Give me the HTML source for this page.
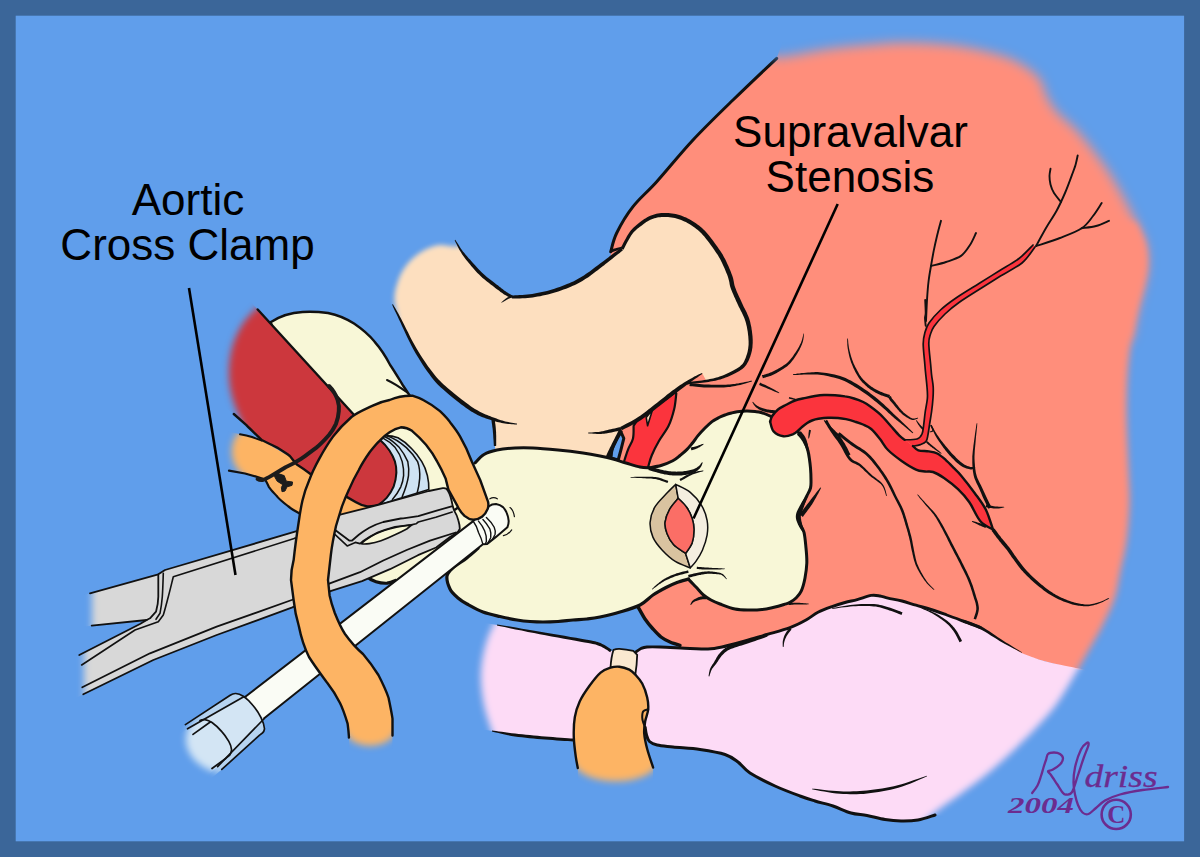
<!DOCTYPE html>
<html>
<head>
<meta charset="utf-8">
<title>Supravalvar Stenosis - Aortic Cross Clamp</title>
<style>
html,body{margin:0;padding:0;background:#3b6699;}
body{width:1200px;height:857px;overflow:hidden;font-family:"Liberation Sans",sans-serif;}
svg{display:block;position:absolute;left:0;top:0;}
.k{fill:none;stroke:#111;stroke-linecap:round;stroke-linejoin:round;}
.lbl{font-family:"Liberation Sans",sans-serif;font-size:44px;fill:#000;text-anchor:middle;}
</style>
</head>
<body>
<svg width="1200" height="857" viewBox="0 0 1200 857">
<defs>
<filter id="b7" x="-20%" y="-20%" width="140%" height="140%"><feGaussianBlur stdDeviation="6"/></filter>
<filter id="b4" x="-20%" y="-20%" width="140%" height="140%"><feGaussianBlur stdDeviation="3.5"/></filter>
<filter id="b3" x="-20%" y="-20%" width="140%" height="140%"><feGaussianBlur stdDeviation="2.4"/></filter>
<mask id="mHeart" maskUnits="userSpaceOnUse" x="0" y="0" width="1200" height="857"><path filter="url(#b7)" fill="#fff" d="M776.8,57.8 C779.8,57.3 786.1,56.5 795.0,55.0 C803.9,53.5 818.3,50.3 830.0,48.7 C841.7,47.1 853.3,46.2 865.0,45.2 C876.7,44.2 888.3,43.0 900.0,42.8 C911.7,42.6 923.3,42.9 935.0,43.8 C946.7,44.7 958.3,45.8 970.0,48.0 C981.7,50.2 995.7,53.6 1005.0,56.8 C1014.3,60.0 1020.2,63.5 1026.0,67.3 C1031.8,71.1 1036.5,74.5 1040.0,79.5 C1043.5,84.5 1044.1,91.5 1047.0,97.0 C1049.9,102.5 1052.8,107.5 1057.5,112.8 C1062.2,118.0 1069.2,122.4 1075.0,128.5 C1080.8,134.6 1086.7,141.9 1092.5,149.5 C1098.3,157.1 1104.8,165.8 1110.0,174.0 C1115.2,182.2 1119.6,190.3 1124.0,198.5 C1128.4,206.7 1132.8,215.4 1136.3,223.0 C1139.8,230.6 1143.2,237.0 1145.0,244.0 C1146.8,251.0 1147.0,258.5 1146.8,265.0 C1146.6,271.5 1145.6,275.5 1144.0,283.0 C1142.4,290.5 1139.1,300.4 1137.0,309.9 C1134.9,319.3 1132.3,334.7 1131.4,339.7 L1000,345 L600,345 L560,250 L700,20 Z"/><path filter="url(#b4)" fill="#fff" d="M1136.3,223.0 C1137.8,226.5 1143.2,237.0 1145.0,244.0 C1146.8,251.0 1147.0,258.5 1146.8,265.0 C1146.6,271.5 1145.6,275.5 1144.0,283.0 C1142.4,290.5 1139.1,300.4 1137.0,309.9 C1134.9,319.3 1133.0,329.1 1131.4,339.7 C1129.9,350.3 1128.5,361.5 1127.7,373.3 C1126.9,385.1 1126.6,398.2 1126.6,410.6 C1126.6,423.1 1127.3,437.4 1127.7,448.0 C1128.1,458.6 1128.5,464.7 1128.8,474.0 C1129.1,483.3 1130.0,492.8 1129.6,504.0 C1129.2,515.2 1128.1,530.1 1126.6,541.3 C1125.0,552.5 1122.3,561.8 1120.3,571.2 C1118.3,580.7 1117.7,589.0 1114.7,598.0 C1111.7,607.0 1107.2,615.8 1102.5,625.3 C1097.8,634.8 1091.1,646.0 1086.2,654.7 C1081.3,663.4 1077.9,669.4 1073.0,677.6 C1068.1,685.8 1062.8,695.5 1056.8,703.7 C1050.8,711.9 1044.8,718.4 1037.2,726.6 C1029.6,734.8 1019.7,744.5 1011.0,752.7 C1002.3,760.9 993.7,768.5 985.0,775.6 C976.3,782.7 967.0,789.2 958.8,795.2 C950.6,801.2 942.8,806.0 936.0,811.5 C929.2,817.0 923.2,821.6 918.0,828.0 C912.8,834.4 907.2,846.3 905.0,850.0 L600,845 L560,600 L560,240 L1000,240 L1100,215 Z"/></mask>
<mask id="mPink" maskUnits="userSpaceOnUse" x="0" y="0" width="1200" height="857"><path filter="url(#b4)" fill="#fff" d="M500.0,612.0 C497.8,616.7 490.2,630.0 487.0,640.0 C483.8,650.0 481.5,661.2 481.0,672.0 C480.5,682.8 481.8,694.0 484.0,705.0 C486.2,716.0 492.3,732.5 494.0,738.0 L640,835 L905,850 L905.0,850.0 C907.2,846.3 912.8,834.4 918.0,828.0 C923.2,821.6 929.2,817.0 936.0,811.5 C942.8,806.0 950.6,801.2 958.8,795.2 C967.0,789.2 976.3,782.7 985.0,775.6 C993.7,768.5 1002.3,760.9 1011.0,752.7 C1019.7,744.5 1029.6,734.8 1037.2,726.6 C1044.8,718.4 1050.8,711.9 1056.8,703.7 C1062.8,695.5 1068.1,685.8 1073.0,677.6 C1077.9,669.4 1081.3,663.4 1086.2,654.7 C1091.1,646.0 1097.8,634.8 1102.5,625.3 C1107.2,615.8 1112.7,602.5 1114.7,598.0 L1113,560 Z"/></mask>
<mask id="mPA" maskUnits="userSpaceOnUse" x="0" y="0" width="1200" height="857"><path filter="url(#b3)" fill="#fff" d="M480.0,241.0 C476.1,241.9 463.5,245.7 456.8,246.4 C450.1,247.1 445.1,244.5 440.0,245.0 C434.9,245.5 430.7,246.9 426.0,249.2 C421.3,251.5 416.0,255.3 412.0,259.0 C408.0,262.7 404.8,267.2 402.2,271.6 C399.6,276.0 397.9,281.4 396.6,285.6 C395.3,289.8 394.7,293.5 394.5,296.8 C394.3,300.1 394.6,301.7 395.2,305.2 C395.8,308.7 397.5,315.9 398.0,318.0 L400,520 L800,520 L800,180 L480,180 Z"/></mask>
<mask id="mRed" maskUnits="userSpaceOnUse" x="0" y="0" width="1200" height="857"><path filter="url(#b4)" fill="#fff" d="M270.0,300.0 C267.7,301.5 260.7,304.8 256.0,309.0 C251.3,313.2 246.0,318.5 242.0,325.0 C238.0,331.5 234.2,339.7 232.0,348.0 C229.8,356.3 228.8,366.3 229.0,375.0 C229.2,383.7 230.5,391.2 233.0,400.0 C235.5,408.8 242.2,423.3 244.0,428.0 L300,560 L460,560 L460,300 Z"/></mask>
<mask id="mStrip" maskUnits="userSpaceOnUse" x="0" y="0" width="1200" height="857"><path filter="url(#b4)" fill="#fff" d="M246.0,428.0 C244.3,429.3 238.3,432.7 236.0,436.0 C233.7,439.3 232.5,444.0 232.0,448.0 C231.5,452.0 232.0,456.3 233.0,460.0 C234.0,463.7 235.8,467.0 238.0,470.0 C240.2,473.0 244.7,476.7 246.0,478.0 L300,560 L460,560 L460,400 Z"/></mask>
<mask id="mClamp" maskUnits="userSpaceOnUse" x="0" y="0" width="1200" height="857"><path filter="url(#b4)" fill="#fff" d="M92,560 L92,640 L84,648 L84,720 L500,720 L500,450 L92,450 Z"/></mask>
<mask id="mConn" maskUnits="userSpaceOnUse" x="0" y="0" width="1200" height="857"><path filter="url(#b4)" fill="#fff" d="M200.0,712.0 C198.2,714.3 191.3,721.0 189.0,726.0 C186.7,731.0 185.5,736.8 186.0,742.0 C186.5,747.2 188.8,752.7 192.0,757.0 C195.2,761.3 200.0,765.2 205.0,768.0 C210.0,770.8 219.2,773.0 222.0,774.0 L300,800 L300,660 L230,660 Z"/></mask>
<mask id="mLoop" maskUnits="userSpaceOnUse" x="0" y="0" width="1200" height="857"><path filter="url(#b4)" fill="#fff" d="M250,380 L520,380 L520,700 L396,730 C392,749 352,752 346,732 L250,700 Z"/></mask>
<mask id="mSnare" maskUnits="userSpaceOnUse" x="0" y="0" width="1200" height="857"><path filter="url(#b4)" fill="#fff" d="M540,640 L680,640 L680,740 L657,764 C650,786 585,788 574,764 L540,740 Z"/></mask>
</defs>
<rect x="0" y="0" width="1200" height="857" fill="#3b6699"/>
<rect x="15.7" y="15.7" width="1168.4" height="825.6" fill="#609eeb"/>
<!-- HEART -->
<g id="heart" mask="url(#mHeart)">
<path fill="#ff8e7b" d="M776.7,58.3 C769.4,65.2 747.0,86.4 733.0,100.0 C719.0,113.6 705.7,126.4 693.0,140.0 C680.3,153.6 666.7,170.6 656.7,181.7 C646.7,192.8 639.7,198.1 633.0,206.7 C626.3,215.2 620.4,225.5 616.7,233.0 C613.0,240.5 611.7,248.6 610.7,251.7 L611,470 L630,596 L630.0,596.0 C631.3,597.8 635.5,603.2 638.0,607.0 C640.5,610.8 642.5,615.3 645.0,619.0 C647.5,622.7 650.3,626.0 653.0,629.0 C655.7,632.0 658.2,634.8 661.0,637.0 C663.8,639.2 666.8,640.6 670.0,642.0 C673.2,643.4 678.3,644.8 680.0,645.3 L684,652 L700,668 L800,646 L860,622 L900,628 L960,650 L1002.8,643 L1028,657 L1070,668 L1200,691 L1200,20 L790,20 Z"/>
<path class="k" stroke-width="3" d="M776.7,58.3 C769.4,65.2 747.0,86.4 733.0,100.0 C719.0,113.6 705.7,126.4 693.0,140.0 C680.3,153.6 666.7,170.6 656.7,181.7 C646.7,192.8 639.7,198.1 633.0,206.7 C626.3,215.2 620.4,225.5 616.7,233.0 C613.0,240.5 611.7,248.6 610.7,251.7"/>
<path class="k" stroke-width="3.4" d="M630.0,596.0 C631.3,597.8 635.5,603.2 638.0,607.0 C640.5,610.8 642.5,615.3 645.0,619.0 C647.5,622.7 650.3,626.0 653.0,629.0 C655.7,632.0 658.2,634.8 661.0,637.0 C663.8,639.2 666.8,640.6 670.0,642.0 C673.2,643.4 678.3,644.8 680.0,645.3"/>
<path fill="#111" d="M611.4,252.5 L611.8,252.4 L612.3,252.2 L612.8,252.0 L613.5,251.8 L614.2,251.6 L614.9,251.3 L615.7,251.0 L616.4,250.7 L617.2,250.4 L618.2,250.0 L619.1,249.5 L620.1,249.0 L621.1,248.6 L621.9,248.1 L622.6,247.7 L623.1,247.4 L622.9,246.6 L622.3,246.7 L621.5,246.8 L620.5,247.0 L619.5,247.3 L618.4,247.5 L617.4,247.8 L616.4,248.1 L615.6,248.3 L614.8,248.5 L614.1,248.6 L613.3,248.8 L612.6,249.0 L612.0,249.1 L611.4,249.3 L610.9,249.4 L610.6,249.5 Z"/>
<path fill="#111" d="M793.0,375.1 L794.2,375.1 L795.7,375.0 L797.5,374.9 L799.6,374.8 L801.7,374.7 L803.9,374.6 L806.0,374.5 L808.0,374.5 L809.9,374.5 L811.8,374.5 L813.7,374.5 L815.6,374.5 L817.5,374.6 L819.5,374.8 L821.6,375.0 L823.8,375.3 L826.1,375.8 L828.6,376.3 L831.2,376.9 L833.8,377.5 L836.5,378.2 L839.2,379.1 L841.8,380.0 L844.4,381.1 L846.9,382.3 L849.6,383.7 L852.3,385.3 L855.0,386.9 L857.7,388.6 L860.2,390.3 L862.7,392.0 L865.0,393.6 L867.2,395.1 L869.2,396.5 L871.1,398.0 L873.0,399.4 L874.7,400.9 L876.5,402.3 L878.2,403.8 L880.0,405.2 L881.7,406.7 L883.4,408.2 L885.2,409.8 L886.8,411.3 L888.5,412.9 L890.1,414.3 L891.6,415.7 L893.1,417.0 L894.4,418.2 L895.7,419.2 L896.8,420.2 L897.9,421.1 L899.0,422.0 L900.1,422.8 L901.2,423.7 L902.4,424.7 L903.7,425.8 L905.1,427.0 L906.6,428.3 L908.1,429.5 L909.5,430.7 L910.8,431.8 L911.9,432.7 L912.7,433.3 L913.3,432.7 L912.6,431.9 L911.6,430.9 L910.4,429.8 L909.0,428.5 L907.6,427.1 L906.2,425.8 L904.9,424.5 L903.6,423.3 L902.5,422.2 L901.5,421.2 L900.5,420.2 L899.5,419.3 L898.4,418.3 L897.4,417.3 L896.2,416.2 L894.9,415.0 L893.5,413.7 L892.1,412.2 L890.5,410.7 L888.9,409.1 L887.2,407.5 L885.5,405.9 L883.8,404.3 L882.0,402.8 L880.3,401.3 L878.6,399.8 L876.8,398.3 L875.0,396.8 L873.2,395.4 L871.2,393.9 L869.1,392.3 L867.0,390.8 L864.6,389.2 L862.1,387.5 L859.5,385.8 L856.8,384.1 L854.0,382.4 L851.2,380.8 L848.4,379.4 L845.6,378.1 L842.9,377.1 L840.1,376.1 L837.3,375.3 L834.6,374.6 L831.8,374.0 L829.2,373.5 L826.6,373.0 L824.2,372.7 L821.9,372.4 L819.7,372.2 L817.6,372.1 L815.6,372.1 L813.7,372.2 L811.8,372.3 L809.9,372.4 L808.0,372.5 L805.9,372.7 L803.8,372.9 L801.6,373.1 L799.4,373.4 L797.4,373.6 L795.6,373.9 L794.1,374.1 L793.0,374.3 Z"/>
<path fill="#111" d="M762.9,378.3 L763.5,378.1 L764.4,377.8 L765.5,377.5 L766.6,377.1 L767.9,376.7 L769.2,376.3 L770.4,375.9 L771.6,375.4 L772.6,374.9 L773.7,374.5 L774.7,374.0 L775.7,373.5 L776.7,372.9 L777.8,372.3 L778.8,371.7 L779.9,371.0 L781.1,370.3 L782.3,369.5 L783.6,368.7 L784.9,367.8 L786.2,366.9 L787.5,365.9 L788.7,364.8 L789.9,363.7 L791.0,362.5 L792.1,361.1 L793.2,359.7 L794.2,358.3 L795.2,356.8 L796.2,355.3 L797.0,353.9 L797.9,352.5 L798.6,351.2 L799.4,349.9 L800.0,348.5 L800.7,347.2 L801.2,345.9 L801.8,344.7 L802.2,343.4 L802.7,342.2 L803.0,341.0 L803.3,339.7 L803.5,338.5 L803.7,337.3 L803.8,336.1 L803.9,335.1 L804.0,334.3 L804.1,333.7 L803.5,333.5 L803.4,334.2 L803.2,335.0 L803.0,336.0 L802.7,337.1 L802.4,338.3 L802.1,339.4 L801.8,340.6 L801.3,341.8 L800.9,342.9 L800.3,344.1 L799.7,345.2 L799.1,346.5 L798.4,347.7 L797.7,348.9 L796.9,350.2 L796.1,351.5 L795.3,352.8 L794.3,354.1 L793.4,355.5 L792.4,356.9 L791.3,358.3 L790.3,359.6 L789.2,360.8 L788.1,361.9 L787.0,362.9 L785.8,363.9 L784.6,364.7 L783.4,365.6 L782.1,366.4 L780.8,367.2 L779.6,367.9 L778.5,368.6 L777.4,369.2 L776.3,369.8 L775.3,370.3 L774.4,370.8 L773.4,371.3 L772.4,371.7 L771.4,372.2 L770.4,372.6 L769.4,373.0 L768.2,373.4 L767.0,373.8 L765.7,374.2 L764.6,374.5 L763.5,374.9 L762.6,375.1 L761.9,375.3 Z"/>
<path fill="#111" d="M759.1,385.0 L759.8,385.3 L760.8,385.7 L761.9,386.2 L763.2,386.7 L764.5,387.3 L765.9,387.8 L767.3,388.4 L768.6,388.9 L769.9,389.5 L771.3,390.1 L772.8,390.8 L774.4,391.4 L775.8,392.0 L777.1,392.6 L778.2,393.0 L779.1,393.3 L779.3,392.7 L778.6,392.2 L777.6,391.6 L776.4,390.9 L775.0,390.1 L773.6,389.3 L772.1,388.5 L770.7,387.7 L769.4,387.1 L768.2,386.4 L766.8,385.7 L765.5,385.1 L764.2,384.5 L762.9,383.9 L761.8,383.4 L760.8,383.0 L760.1,382.6 Z"/>
<path fill="#111" d="M752.3,402.2 L752.5,402.6 L752.8,403.0 L753.1,403.6 L753.5,404.2 L753.9,404.9 L754.4,405.5 L754.9,406.1 L755.4,406.7 L755.9,407.2 L756.5,407.7 L757.1,408.1 L757.7,408.6 L758.3,409.0 L759.0,409.4 L759.7,409.8 L760.5,410.2 L761.3,410.5 L762.2,410.9 L763.1,411.2 L764.0,411.5 L764.9,411.8 L765.9,412.0 L766.8,412.2 L767.7,412.5 L768.7,412.6 L769.7,412.8 L770.8,412.9 L771.8,413.0 L772.8,413.1 L773.6,413.2 L774.3,413.3 L774.8,413.3 L775.2,410.3 L774.6,410.2 L773.9,410.2 L773.0,410.1 L772.1,410.0 L771.1,409.9 L770.1,409.8 L769.2,409.7 L768.3,409.5 L767.4,409.4 L766.5,409.2 L765.6,409.0 L764.8,408.8 L763.9,408.6 L763.0,408.3 L762.2,408.1 L761.5,407.8 L760.8,407.5 L760.1,407.3 L759.5,407.0 L758.9,406.7 L758.3,406.3 L757.7,406.0 L757.1,405.7 L756.6,405.3 L756.1,404.9 L755.5,404.4 L755.0,403.9 L754.5,403.4 L754.0,402.9 L753.6,402.4 L753.2,402.1 L752.9,401.8 Z"/>
<path fill="#111" d="M788.8,398.6 L789.5,398.8 L790.5,399.0 L791.7,399.3 L793.0,399.6 L794.3,399.9 L795.6,400.1 L796.6,400.2 L797.3,400.3 L797.5,399.7 L796.8,399.4 L795.8,399.0 L794.7,398.6 L793.4,398.2 L792.1,397.8 L790.9,397.5 L789.9,397.2 L789.2,397.0 Z"/>
<path fill="#111" d="M847.2,338.5 L847.2,339.3 L847.2,340.4 L847.2,341.6 L847.3,343.0 L847.3,344.5 L847.4,346.0 L847.6,347.6 L847.8,349.1 L848.1,350.6 L848.4,352.2 L848.7,353.8 L849.1,355.5 L849.5,357.2 L850.0,358.9 L850.5,360.6 L851.1,362.4 L851.8,364.1 L852.6,366.0 L853.4,367.9 L854.3,369.8 L855.2,371.7 L856.2,373.5 L857.1,375.1 L858.0,376.6 L858.9,378.0 L859.8,379.2 L860.7,380.4 L861.6,381.4 L862.4,382.4 L863.3,383.3 L864.2,384.1 L865.1,385.0 L865.9,385.8 L866.8,386.6 L867.7,387.4 L868.6,388.1 L869.5,388.7 L870.4,389.4 L871.3,390.0 L872.2,390.6 L873.2,391.2 L874.2,391.8 L875.2,392.4 L876.2,392.9 L877.3,393.5 L878.3,394.0 L879.4,394.4 L880.4,394.9 L881.5,395.4 L882.8,395.8 L884.0,396.3 L885.3,396.7 L886.4,397.1 L887.5,397.4 L888.4,397.7 L889.0,398.0 L890.0,395.0 L889.3,394.8 L888.4,394.5 L887.4,394.2 L886.2,393.8 L885.0,393.4 L883.8,393.0 L882.7,392.5 L881.6,392.1 L880.6,391.7 L879.6,391.2 L878.6,390.7 L877.6,390.3 L876.6,389.8 L875.6,389.2 L874.7,388.7 L873.8,388.2 L872.9,387.6 L872.0,387.0 L871.1,386.4 L870.3,385.8 L869.5,385.2 L868.6,384.5 L867.8,383.8 L866.9,383.0 L866.1,382.2 L865.2,381.4 L864.3,380.5 L863.4,379.7 L862.6,378.7 L861.7,377.7 L860.9,376.6 L860.0,375.4 L859.1,373.9 L858.2,372.3 L857.2,370.6 L856.3,368.8 L855.3,367.0 L854.4,365.1 L853.6,363.4 L852.9,361.6 L852.3,360.0 L851.7,358.3 L851.2,356.7 L850.7,355.1 L850.3,353.5 L849.9,351.9 L849.5,350.4 L849.2,348.9 L848.9,347.4 L848.7,345.9 L848.5,344.4 L848.3,342.9 L848.2,341.5 L848.1,340.3 L848.0,339.3 L847.8,338.5 Z"/>
<path fill="#111" d="M888.2,397.1 L888.3,397.3 L888.5,397.6 L888.6,398.0 L888.8,398.4 L889.0,398.8 L889.3,399.3 L889.6,399.8 L889.9,400.3 L890.2,400.7 L890.5,401.1 L890.8,401.5 L891.2,401.8 L891.5,402.2 L891.9,402.6 L892.3,403.0 L892.7,403.5 L893.1,404.0 L893.6,404.6 L894.1,405.3 L894.7,406.0 L895.3,406.7 L895.9,407.4 L896.5,408.1 L897.0,408.8 L897.6,409.5 L898.2,410.1 L898.8,410.7 L899.3,411.4 L899.9,412.0 L900.6,412.6 L901.2,413.2 L901.9,413.8 L902.5,414.4 L903.2,414.9 L903.9,415.5 L904.7,416.0 L905.4,416.5 L906.1,417.0 L906.8,417.4 L907.5,417.8 L908.2,418.2 L908.8,418.5 L909.5,418.9 L910.2,419.2 L910.8,419.5 L911.5,419.7 L912.2,419.9 L912.9,420.0 L913.7,420.0 L914.5,419.8 L915.3,419.6 L916.0,419.3 L916.7,419.0 L917.3,418.8 L917.8,418.6 L918.1,418.4 L917.9,417.6 L917.5,417.7 L916.9,417.9 L916.3,418.1 L915.6,418.3 L914.9,418.4 L914.2,418.6 L913.6,418.6 L913.1,418.6 L912.5,418.5 L912.0,418.3 L911.5,418.0 L910.9,417.7 L910.3,417.4 L909.7,417.0 L909.1,416.6 L908.5,416.2 L907.9,415.8 L907.2,415.3 L906.5,414.8 L905.9,414.3 L905.2,413.8 L904.6,413.3 L903.9,412.7 L903.3,412.2 L902.8,411.6 L902.2,411.0 L901.7,410.4 L901.1,409.8 L900.6,409.2 L900.0,408.5 L899.5,407.9 L899.0,407.2 L898.4,406.5 L897.9,405.8 L897.3,405.1 L896.8,404.4 L896.2,403.7 L895.7,403.0 L895.2,402.3 L894.7,401.7 L894.3,401.2 L893.9,400.8 L893.5,400.3 L893.2,400.0 L892.9,399.6 L892.6,399.3 L892.4,399.0 L892.1,398.7 L891.9,398.4 L891.7,398.0 L891.5,397.6 L891.4,397.2 L891.2,396.8 L891.0,396.5 L890.9,396.2 L890.8,395.9 Z"/>
<path fill="#111" d="M751.9,380.7 L751.0,380.8 L749.8,381.1 L748.3,381.4 L746.7,381.7 L745.0,382.1 L743.2,382.5 L741.5,382.8 L739.8,383.1 L738.2,383.4 L736.6,383.6 L735.0,383.9 L733.3,384.1 L731.6,384.3 L729.8,384.5 L727.9,384.6 L725.9,384.7 L723.7,384.8 L721.4,384.8 L718.9,384.8 L716.4,384.8 L713.8,384.8 L711.3,384.7 L708.8,384.6 L706.5,384.5 L704.1,384.4 L701.7,384.2 L699.3,384.0 L696.9,383.7 L694.7,383.5 L692.7,383.3 L691.0,383.1 L689.8,383.0 L689.4,386.0 L690.7,386.2 L692.4,386.3 L694.4,386.5 L696.6,386.8 L699.0,387.0 L701.5,387.2 L704.0,387.4 L706.3,387.5 L708.7,387.6 L711.2,387.6 L713.8,387.6 L716.4,387.6 L718.9,387.6 L721.5,387.5 L723.8,387.4 L726.1,387.3 L728.1,387.1 L730.1,386.9 L731.9,386.6 L733.6,386.3 L735.3,386.0 L737.0,385.6 L738.6,385.3 L740.2,384.9 L741.9,384.5 L743.6,384.0 L745.4,383.5 L747.0,383.0 L748.6,382.5 L750.0,382.1 L751.2,381.7 L752.1,381.3 Z"/>
<path fill="#111" d="M976.7,423.2 L976.4,424.6 L976.1,426.5 L975.8,428.8 L975.4,431.3 L975.0,433.9 L974.7,436.6 L974.3,439.2 L974.0,441.5 L973.7,443.7 L973.4,445.8 L973.2,447.9 L972.9,450.0 L972.7,452.1 L972.5,454.2 L972.3,456.3 L972.3,458.4 L972.3,460.5 L972.3,462.7 L972.4,464.9 L972.5,467.1 L972.7,469.2 L972.9,471.3 L973.3,473.4 L973.6,475.3 L974.1,477.2 L974.7,479.0 L975.4,480.6 L976.1,482.2 L976.8,483.7 L977.6,485.2 L978.3,486.7 L979.0,488.2 L979.7,489.8 L980.4,491.5 L981.1,493.1 L981.8,494.8 L982.5,496.4 L983.2,497.9 L983.9,499.4 L984.5,500.7 L985.1,502.0 L985.7,503.2 L986.3,504.4 L986.9,505.5 L987.4,506.5 L987.8,507.4 L988.2,508.2 L988.5,508.8 L991.5,507.2 L991.2,506.6 L990.8,505.9 L990.4,505.0 L989.8,504.0 L989.3,502.9 L988.7,501.8 L988.1,500.5 L987.5,499.3 L986.9,498.0 L986.2,496.5 L985.5,495.0 L984.8,493.4 L984.0,491.8 L983.3,490.2 L982.5,488.6 L981.8,487.0 L981.1,485.4 L980.3,483.9 L979.5,482.4 L978.8,480.9 L978.1,479.4 L977.4,477.9 L976.8,476.3 L976.4,474.7 L975.9,472.9 L975.6,470.9 L975.3,468.9 L975.0,466.9 L974.9,464.7 L974.7,462.6 L974.6,460.5 L974.5,458.4 L974.5,456.4 L974.6,454.3 L974.7,452.3 L974.8,450.2 L975.0,448.1 L975.2,446.0 L975.4,443.9 L975.6,441.7 L975.8,439.3 L976.0,436.8 L976.3,434.1 L976.6,431.4 L976.8,428.9 L977.1,426.6 L977.2,424.7 L977.3,423.2 Z"/>
<path fill="#111" d="M985.7,507.0 L986.4,507.2 L987.3,507.4 L988.4,507.6 L989.7,507.9 L991.0,508.1 L992.3,508.3 L993.7,508.5 L994.9,508.5 L996.2,508.5 L997.5,508.5 L998.9,508.4 L1000.2,508.2 L1001.5,508.0 L1002.6,507.8 L1003.5,507.6 L1004.2,507.5 L1004.2,506.9 L1003.5,506.8 L1002.5,506.8 L1001.4,506.7 L1000.1,506.7 L998.8,506.7 L997.5,506.6 L996.2,506.6 L995.1,506.5 L993.9,506.3 L992.7,506.0 L991.4,505.8 L990.2,505.5 L989.0,505.2 L987.9,504.9 L987.0,504.7 L986.3,504.6 Z"/>
<path fill="#111" d="M971.9,521.5 L972.4,521.9 L973.0,522.2 L973.9,522.7 L974.8,523.1 L975.7,523.6 L976.7,524.1 L977.7,524.6 L978.6,525.0 L979.5,525.4 L980.5,525.8 L981.5,526.3 L982.5,526.7 L983.4,527.1 L984.3,527.5 L985.0,527.8 L985.5,528.0 L986.5,525.6 L985.9,525.4 L985.2,525.1 L984.3,524.8 L983.4,524.4 L982.4,524.1 L981.3,523.7 L980.3,523.3 L979.4,523.0 L978.4,522.7 L977.4,522.4 L976.4,522.0 L975.4,521.7 L974.4,521.4 L973.5,521.2 L972.7,521.0 L972.1,520.9 Z"/>
<path fill="#111" d="M991.5,530.7 L992.1,531.4 L992.8,532.3 L993.6,533.5 L994.5,534.7 L995.5,536.1 L996.5,537.5 L997.6,538.8 L998.6,540.1 L999.6,541.4 L1000.6,542.6 L1001.7,543.9 L1002.8,545.2 L1003.9,546.5 L1004.9,547.7 L1006.0,549.0 L1007.0,550.3 L1007.9,551.6 L1008.9,552.9 L1009.8,554.2 L1010.7,555.5 L1011.6,556.9 L1012.6,558.2 L1013.6,559.6 L1014.6,561.0 L1015.7,562.5 L1016.8,563.9 L1017.9,565.4 L1019.0,566.9 L1020.2,568.4 L1021.4,569.9 L1022.7,571.3 L1023.9,572.7 L1025.2,574.1 L1026.6,575.5 L1027.9,576.8 L1029.3,578.1 L1030.7,579.4 L1032.1,580.7 L1033.5,582.0 L1034.9,583.2 L1036.4,584.4 L1037.9,585.7 L1039.4,586.9 L1040.9,588.1 L1042.4,589.2 L1043.8,590.4 L1045.3,591.4 L1046.7,592.4 L1048.1,593.4 L1049.4,594.2 L1050.7,595.1 L1052.0,595.8 L1053.3,596.6 L1054.6,597.3 L1056.0,598.0 L1057.4,598.7 L1058.9,599.4 L1060.4,600.1 L1062.0,600.8 L1063.5,601.4 L1065.1,602.0 L1066.7,602.6 L1068.2,603.1 L1069.6,603.6 L1071.0,604.0 L1072.3,604.4 L1073.6,604.7 L1074.9,605.0 L1076.1,605.2 L1077.4,605.5 L1078.6,605.7 L1079.9,605.8 L1081.1,606.0 L1082.3,606.1 L1083.5,606.2 L1084.7,606.3 L1085.9,606.3 L1087.2,606.3 L1088.4,606.2 L1089.7,606.0 L1091.0,605.8 L1092.3,605.5 L1093.7,605.2 L1095.0,604.8 L1096.4,604.4 L1097.7,604.0 L1099.0,603.5 L1100.2,603.1 L1101.5,602.5 L1102.8,601.9 L1104.1,601.3 L1105.4,600.6 L1106.6,600.0 L1107.6,599.4 L1108.5,598.9 L1109.2,598.5 L1108.8,597.9 L1108.1,598.2 L1107.2,598.6 L1106.1,599.2 L1104.9,599.8 L1103.6,600.4 L1102.3,600.9 L1101.0,601.5 L1099.8,601.9 L1098.6,602.3 L1097.3,602.7 L1096.0,603.1 L1094.6,603.4 L1093.3,603.8 L1092.0,604.0 L1090.7,604.2 L1089.5,604.4 L1088.3,604.5 L1087.1,604.5 L1086.0,604.5 L1084.8,604.4 L1083.7,604.3 L1082.5,604.1 L1081.3,604.0 L1080.1,603.8 L1079.0,603.6 L1077.8,603.3 L1076.6,603.1 L1075.4,602.8 L1074.2,602.5 L1073.0,602.1 L1071.7,601.7 L1070.4,601.2 L1069.0,600.7 L1067.5,600.2 L1066.0,599.6 L1064.5,599.0 L1063.0,598.3 L1061.5,597.7 L1060.0,597.0 L1058.6,596.3 L1057.3,595.6 L1056.0,594.9 L1054.7,594.1 L1053.5,593.4 L1052.3,592.6 L1051.1,591.8 L1049.8,590.9 L1048.5,590.0 L1047.1,589.0 L1045.7,587.9 L1044.2,586.8 L1042.8,585.6 L1041.3,584.4 L1039.9,583.2 L1038.5,582.0 L1037.1,580.8 L1035.7,579.6 L1034.3,578.3 L1032.9,577.0 L1031.6,575.8 L1030.3,574.5 L1029.0,573.1 L1027.7,571.8 L1026.5,570.5 L1025.2,569.1 L1024.1,567.7 L1022.9,566.2 L1021.8,564.8 L1020.6,563.3 L1019.5,561.8 L1018.5,560.4 L1017.4,559.0 L1016.4,557.6 L1015.5,556.2 L1014.5,554.9 L1013.6,553.5 L1012.7,552.2 L1011.8,550.8 L1010.8,549.5 L1009.8,548.1 L1008.8,546.8 L1007.7,545.4 L1006.6,544.1 L1005.5,542.8 L1004.5,541.6 L1003.4,540.3 L1002.4,539.1 L1001.4,537.9 L1000.5,536.6 L999.4,535.3 L998.4,533.9 L997.4,532.6 L996.5,531.3 L995.7,530.2 L995.0,529.2 L994.5,528.5 Z"/>
<path fill="#111" d="M824.4,421.4 L824.8,422.2 L825.4,423.2 L826.2,424.4 L827.0,425.8 L827.8,427.3 L828.8,428.8 L829.8,430.3 L830.7,431.8 L831.8,433.3 L832.8,434.8 L834.0,436.4 L835.1,437.9 L836.3,439.5 L837.5,441.1 L838.6,442.8 L839.8,444.5 L840.9,446.3 L842.0,448.2 L843.1,450.3 L844.2,452.4 L845.3,454.5 L846.5,456.5 L847.7,458.3 L849.0,459.9 L850.3,461.2 L851.7,462.2 L853.0,463.0 L854.3,463.6 L855.6,464.1 L856.8,464.7 L858.0,465.3 L859.3,466.1 L860.6,467.2 L861.9,468.3 L863.3,469.6 L864.6,470.9 L866.1,472.3 L867.5,473.6 L868.9,475.0 L870.4,476.2 L871.9,477.4 L873.5,478.6 L875.1,479.7 L876.6,480.8 L878.1,481.9 L879.5,482.9 L880.8,484.1 L881.8,485.2 L882.7,486.5 L883.5,488.0 L884.1,489.5 L884.7,491.1 L885.2,492.7 L885.6,494.1 L885.9,495.2 L886.3,496.1 L886.9,495.9 L886.7,495.0 L886.4,493.8 L886.1,492.4 L885.7,490.8 L885.2,489.2 L884.6,487.5 L883.9,485.9 L883.0,484.4 L881.8,483.0 L880.6,481.8 L879.1,480.6 L877.6,479.4 L876.1,478.3 L874.5,477.1 L873.0,476.0 L871.6,474.8 L870.3,473.5 L868.9,472.2 L867.5,470.8 L866.2,469.4 L864.8,468.0 L863.4,466.7 L862.1,465.4 L860.7,464.3 L859.3,463.3 L858.0,462.5 L856.7,461.8 L855.4,461.3 L854.2,460.7 L853.1,460.0 L852.1,459.2 L851.0,458.1 L849.9,456.7 L848.9,455.0 L847.8,453.1 L846.7,451.1 L845.6,449.0 L844.5,446.9 L843.4,444.8 L842.2,442.9 L841.1,441.1 L839.9,439.4 L838.7,437.8 L837.5,436.2 L836.4,434.6 L835.3,433.1 L834.2,431.6 L833.3,430.2 L832.3,428.7 L831.4,427.2 L830.5,425.7 L829.6,424.2 L828.8,422.9 L828.1,421.6 L827.5,420.6 L827.0,419.8 Z"/>
<path fill="#111" d="M837.5,434.6 L838.6,435.4 L839.9,436.5 L841.6,437.8 L843.4,439.2 L845.3,440.8 L847.3,442.3 L849.3,443.8 L851.1,445.2 L853.0,446.5 L854.9,447.7 L856.8,448.9 L858.7,450.1 L860.6,451.2 L862.4,452.5 L864.2,453.7 L865.8,455.0 L867.3,456.5 L868.8,457.9 L870.2,459.5 L871.6,461.1 L872.9,462.7 L874.3,464.4 L875.6,466.1 L876.9,467.8 L878.3,469.6 L879.6,471.4 L880.9,473.3 L882.2,475.2 L883.4,477.1 L884.6,479.0 L885.8,480.8 L886.9,482.7 L887.9,484.4 L888.8,486.2 L889.7,487.9 L890.5,489.6 L891.3,491.3 L892.2,493.1 L893.0,494.8 L893.9,496.6 L894.8,498.3 L895.7,500.1 L896.6,501.8 L897.5,503.6 L898.4,505.3 L899.3,507.0 L900.1,508.8 L900.8,510.5 L901.5,512.2 L902.1,513.9 L902.7,515.6 L903.2,517.4 L903.8,519.1 L904.3,520.9 L904.8,522.6 L905.3,524.4 L905.8,526.1 L906.4,527.9 L906.9,529.6 L907.4,531.4 L907.9,533.1 L908.3,534.9 L908.8,536.6 L909.2,538.3 L909.6,539.9 L910.0,541.6 L910.3,543.2 L910.6,544.8 L910.9,546.4 L911.2,548.0 L911.5,549.6 L911.9,551.2 L912.3,552.8 L912.6,554.4 L913.0,555.9 L913.3,557.5 L913.7,559.1 L914.1,560.6 L914.6,562.1 L915.1,563.5 L915.6,564.9 L916.2,566.3 L916.8,567.6 L917.5,568.9 L918.2,570.2 L918.9,571.5 L919.6,572.7 L920.3,573.9 L921.0,575.1 L921.8,576.4 L922.6,577.6 L923.4,578.8 L924.2,579.9 L925.0,581.1 L925.9,582.1 L926.7,583.2 L927.7,584.2 L928.7,585.3 L929.7,586.3 L930.8,587.2 L931.7,588.1 L932.6,588.9 L933.4,589.6 L934.0,590.1 L934.4,589.5 L933.9,589.0 L933.2,588.3 L932.4,587.5 L931.4,586.5 L930.4,585.5 L929.5,584.5 L928.5,583.4 L927.7,582.4 L926.9,581.4 L926.1,580.3 L925.3,579.1 L924.6,578.0 L923.8,576.8 L923.1,575.5 L922.4,574.3 L921.7,573.1 L921.0,571.9 L920.4,570.6 L919.7,569.4 L919.1,568.1 L918.5,566.8 L918.0,565.6 L917.4,564.2 L916.9,562.9 L916.5,561.5 L916.1,560.0 L915.7,558.5 L915.4,557.0 L915.1,555.5 L914.7,553.9 L914.4,552.3 L914.1,550.8 L913.8,549.2 L913.5,547.6 L913.2,546.0 L912.9,544.4 L912.6,542.8 L912.3,541.1 L912.0,539.4 L911.6,537.7 L911.2,536.0 L910.7,534.3 L910.2,532.5 L909.8,530.7 L909.3,528.9 L908.7,527.2 L908.2,525.4 L907.7,523.6 L907.2,521.9 L906.7,520.1 L906.2,518.4 L905.6,516.6 L905.1,514.9 L904.5,513.1 L903.9,511.3 L903.2,509.5 L902.4,507.7 L901.6,506.0 L900.7,504.2 L899.8,502.4 L898.9,500.7 L897.9,498.9 L897.0,497.2 L896.1,495.4 L895.3,493.7 L894.5,492.0 L893.7,490.2 L892.8,488.5 L892.0,486.8 L891.1,485.0 L890.2,483.2 L889.1,481.3 L888.0,479.5 L886.9,477.6 L885.6,475.6 L884.4,473.7 L883.1,471.8 L881.7,469.9 L880.4,468.0 L879.1,466.2 L877.7,464.4 L876.4,462.7 L875.1,461.0 L873.7,459.3 L872.3,457.7 L870.8,456.0 L869.2,454.5 L867.6,453.0 L865.9,451.5 L864.0,450.1 L862.2,448.9 L860.2,447.6 L858.3,446.4 L856.4,445.3 L854.6,444.1 L852.9,442.8 L851.0,441.5 L849.1,440.0 L847.2,438.4 L845.3,436.9 L843.5,435.4 L841.8,434.1 L840.5,433.0 L839.5,432.2 Z"/>
<path fill="#111" d="M823.7,420.5 L824.2,421.1 L824.8,422.0 L825.7,423.0 L826.6,424.1 L827.5,425.2 L828.5,426.4 L829.5,427.5 L830.4,428.6 L831.2,429.6 L832.1,430.5 L832.9,431.5 L833.8,432.4 L834.7,433.4 L835.5,434.3 L836.3,435.3 L837.1,436.3 L837.8,437.4 L838.6,438.5 L839.3,439.6 L840.0,440.8 L840.7,442.0 L841.4,443.2 L842.1,444.4 L842.8,445.7 L843.5,447.0 L844.3,448.4 L845.0,449.8 L845.7,451.3 L846.4,452.7 L847.0,454.0 L847.5,455.0 L847.9,455.8 L850.5,454.6 L850.1,453.8 L849.5,452.7 L848.9,451.5 L848.2,450.1 L847.5,448.6 L846.7,447.1 L845.9,445.7 L845.2,444.3 L844.5,443.1 L843.7,441.9 L843.0,440.7 L842.2,439.5 L841.4,438.3 L840.6,437.1 L839.8,436.0 L838.9,434.9 L838.1,433.8 L837.2,432.8 L836.2,431.9 L835.3,431.0 L834.4,430.1 L833.5,429.2 L832.6,428.3 L831.6,427.4 L830.7,426.4 L829.7,425.4 L828.6,424.3 L827.6,423.2 L826.6,422.2 L825.7,421.2 L824.9,420.5 L824.3,419.9 Z"/>
<path fill="#111" d="M917.1,494.8 L917.8,495.6 L918.6,496.6 L919.6,497.9 L920.7,499.2 L921.9,500.6 L923.1,502.1 L924.3,503.6 L925.5,505.0 L926.6,506.3 L927.8,507.6 L929.0,509.0 L930.2,510.3 L931.4,511.7 L932.6,513.2 L933.7,514.6 L934.8,516.2 L935.9,517.8 L936.9,519.5 L937.9,521.2 L938.9,523.0 L939.9,524.8 L940.9,526.7 L942.0,528.6 L943.0,530.6 L944.0,532.5 L945.0,534.5 L946.1,536.5 L947.1,538.6 L948.1,540.7 L949.2,542.8 L950.2,544.9 L951.3,547.0 L952.4,549.0 L953.4,551.1 L954.5,553.2 L955.6,555.2 L956.7,557.3 L957.8,559.4 L958.8,561.5 L959.9,563.6 L960.9,565.7 L962.0,567.9 L963.1,570.0 L964.2,572.2 L965.3,574.4 L966.3,576.5 L967.2,578.5 L968.0,580.5 L968.8,582.4 L969.5,584.2 L970.1,585.9 L970.7,587.6 L971.2,589.3 L971.8,590.9 L972.3,592.6 L972.8,594.4 L973.4,596.2 L973.9,598.0 L974.5,599.8 L975.1,601.5 L975.6,603.3 L975.9,604.9 L976.2,606.5 L976.3,608.0 L976.3,609.5 L976.0,611.0 L975.7,612.6 L975.2,614.1 L974.7,615.5 L974.3,616.8 L973.9,618.0 L973.6,618.8 L976.0,619.6 L976.3,618.8 L976.6,617.7 L977.1,616.4 L977.6,614.9 L978.1,613.2 L978.5,611.5 L978.8,609.7 L978.9,608.0 L978.7,606.2 L978.4,604.4 L978.0,602.6 L977.5,600.8 L976.9,599.0 L976.3,597.2 L975.8,595.4 L975.2,593.6 L974.7,591.9 L974.2,590.2 L973.6,588.5 L973.1,586.8 L972.5,585.1 L971.8,583.3 L971.1,581.4 L970.4,579.5 L969.5,577.5 L968.5,575.4 L967.5,573.3 L966.5,571.1 L965.4,568.9 L964.3,566.7 L963.2,564.6 L962.1,562.4 L961.1,560.3 L960.0,558.2 L958.9,556.2 L957.8,554.1 L956.7,552.0 L955.7,549.9 L954.6,547.9 L953.5,545.8 L952.4,543.8 L951.4,541.7 L950.3,539.6 L949.3,537.5 L948.2,535.4 L947.2,533.4 L946.1,531.4 L945.0,529.4 L944.0,527.5 L942.9,525.6 L941.9,523.8 L940.8,521.9 L939.7,520.1 L938.7,518.4 L937.5,516.7 L936.4,515.0 L935.2,513.5 L934.0,512.0 L932.7,510.6 L931.4,509.2 L930.2,507.9 L928.9,506.6 L927.7,505.3 L926.5,504.0 L925.3,502.7 L924.1,501.3 L922.8,499.9 L921.5,498.5 L920.3,497.2 L919.3,496.1 L918.4,495.1 L917.7,494.4 Z"/>
<path fill="#111" d="M820.5,487.4 L819.9,488.0 L819.2,488.9 L818.4,489.9 L817.5,491.1 L816.5,492.3 L815.6,493.5 L814.7,494.7 L813.8,495.7 L813.1,496.7 L812.4,497.6 L811.7,498.5 L811.0,499.3 L810.4,500.2 L809.6,501.2 L808.9,502.2 L808.0,503.3 L807.0,504.5 L805.9,506.0 L804.7,507.6 L803.4,509.2 L802.2,510.8 L801.1,512.2 L800.2,513.4 L799.5,514.3 L802.9,516.9 L803.5,516.0 L804.4,514.8 L805.5,513.3 L806.7,511.7 L807.9,510.1 L809.1,508.4 L810.2,506.9 L811.2,505.5 L812.0,504.4 L812.7,503.3 L813.3,502.3 L813.9,501.3 L814.4,500.3 L815.0,499.3 L815.6,498.3 L816.2,497.3 L816.8,496.1 L817.5,494.8 L818.3,493.4 L819.0,492.1 L819.7,490.8 L820.3,489.6 L820.8,488.6 L821.1,487.8 Z"/>
<path fill="#111" d="M809.0,429.8 L808.9,430.5 L808.8,431.6 L808.6,432.8 L808.5,434.1 L808.4,435.4 L808.3,436.6 L808.3,437.6 L808.3,438.4 L808.9,438.4 L809.2,437.8 L809.5,436.8 L809.8,435.6 L810.1,434.3 L810.4,433.1 L810.6,431.9 L810.8,430.9 L811.0,430.2 Z"/>
<path fill="#111" d="M690.9,605.1 L691.1,604.9 L691.4,604.5 L691.8,604.1 L692.1,603.7 L692.5,603.2 L692.9,602.8 L693.2,602.5 L693.6,602.2 L694.0,602.0 L694.4,601.7 L694.9,601.5 L695.4,601.3 L695.9,601.1 L696.4,601.0 L697.0,600.8 L697.5,600.6 L698.0,600.4 L698.5,600.2 L699.0,600.1 L699.4,599.9 L699.9,599.8 L700.3,599.7 L700.8,599.5 L701.3,599.5 L701.8,599.4 L702.5,599.3 L703.2,599.3 L703.9,599.2 L704.6,599.2 L705.3,599.2 L705.9,599.2 L706.3,599.1 L706.1,596.1 L705.7,596.1 L705.2,596.1 L704.5,596.1 L703.8,596.2 L703.0,596.2 L702.2,596.3 L701.4,596.4 L700.7,596.5 L700.1,596.7 L699.5,596.9 L699.0,597.1 L698.4,597.3 L697.9,597.5 L697.4,597.7 L697.0,598.0 L696.5,598.2 L696.0,598.5 L695.5,598.7 L695.0,599.0 L694.4,599.3 L693.9,599.6 L693.4,600.0 L692.9,600.4 L692.4,600.8 L692.0,601.3 L691.6,601.9 L691.3,602.4 L691.0,603.0 L690.8,603.5 L690.6,604.0 L690.4,604.4 L690.3,604.7 Z"/>
<path fill="#111" d="M788.8,605.0 L789.5,604.9 L790.4,604.9 L791.5,604.8 L792.7,604.7 L794.0,604.6 L795.4,604.6 L796.7,604.5 L798.0,604.4 L799.3,604.4 L800.8,604.4 L802.4,604.4 L804.0,604.4 L805.4,604.4 L806.8,604.4 L807.9,604.3 L808.8,604.3 L808.8,603.7 L808.0,603.6 L806.8,603.5 L805.5,603.3 L804.0,603.2 L802.4,603.0 L800.9,602.9 L799.4,602.8 L798.0,602.8 L796.7,602.7 L795.3,602.8 L794.0,602.8 L792.6,602.8 L791.4,602.9 L790.3,602.9 L789.4,603.0 L788.6,603.0 Z"/>
<path class="k" stroke-width="1.9" d="M1036.0,246.0 C1037.7,243.0 1042.6,233.9 1046.0,228.0 C1049.4,222.1 1053.4,216.5 1056.6,210.7 C1059.8,204.9 1062.5,198.8 1065.0,193.0 C1067.5,187.2 1070.0,180.3 1071.7,175.6 C1073.5,170.9 1074.5,168.3 1075.5,165.0 C1076.5,161.7 1077.3,157.1 1077.7,155.5"/>
<path class="k" stroke-width="1.9" d="M1061.0,202.0 C1059.8,200.5 1055.8,195.9 1054.0,193.0 C1052.2,190.1 1051.2,187.3 1050.5,184.5 C1049.8,181.7 1049.5,178.6 1049.5,176.0 C1049.5,173.4 1050.3,170.0 1050.5,168.8"/>
<path class="k" stroke-width="1.9" d="M1036.5,245.9 C1040.4,244.6 1052.5,240.9 1060.0,238.0 C1067.5,235.1 1076.2,232.0 1081.7,228.3 C1087.2,224.6 1089.7,220.2 1093.0,216.0 C1096.3,211.8 1100.2,205.2 1101.7,203.0"/>
<path class="k" stroke-width="1.9" d="M1081.7,228.3 C1084.1,227.9 1091.5,227.2 1096.0,226.0 C1100.5,224.8 1106.8,221.7 1109.0,220.8"/>
<path class="k" stroke-width="1.9" d="M926.0,321.0 C926.2,317.5 926.6,306.7 927.0,300.0 C927.4,293.3 927.9,286.7 928.6,281.0 C929.3,275.3 930.1,271.0 931.0,266.0 C931.9,261.0 932.7,255.9 933.7,250.9 C934.7,245.9 935.8,241.0 937.0,236.0 C938.2,231.0 940.3,223.3 941.0,220.8"/>
<path class="k" stroke-width="1.9" d="M931.0,266.0 C933.5,265.3 941.0,263.7 946.0,262.0 C951.0,260.3 957.0,258.7 961.0,255.9 C965.0,253.1 967.5,248.8 970.0,245.0 C972.5,241.2 975.0,235.0 976.0,233.0"/>
<path class="k" stroke-width="1.9" d="M925.7,325.7 C925.6,324.4 925.0,320.1 925.0,318.0 C925.0,315.9 925.7,315.8 925.7,312.8 C925.7,309.8 925.3,302.1 925.2,300.0"/>
<path fill="#fb343d" stroke="#111" stroke-width="2.2" stroke-linejoin="round" d="M675.6,392.2 C672.3,394.5 662.1,401.8 656.0,406.2 C649.9,410.6 642.9,415.5 639.2,418.8 C635.5,422.1 634.5,424.6 633.6,425.8 L633.6,425.8 C633.5,427.9 633.9,434.4 633.0,438.4 C632.1,442.4 629.4,446.0 628.0,449.6 C626.6,453.2 625.1,458.3 624.5,460.0 L622,470 L648,470 L648.3,466.4 C648.9,464.5 650.0,459.4 651.8,455.2 C653.5,451.0 656.0,446.1 658.8,441.2 C661.6,436.3 666.0,431.2 668.6,425.8 C671.2,420.4 672.9,414.4 674.2,409.0 C675.5,403.6 675.9,396.2 676.3,393.6 Z"/>
<path fill="#fddfbf" stroke="#111" stroke-width="1.6" stroke-linejoin="round" d="M646.2,417.4 L652.5,409.7 L647.6,425.8 Z"/>
<path fill="#609eeb" stroke="#111" stroke-width="3" stroke-linejoin="round" d="M621,432 L623.8,438.4 L621,449.6 L618.2,460 L611,458 C611,450 615,440 621,432 Z"/>
</g>
<!-- PINK -->
<g id="pink">
<g mask="url(#mPink)"><path fill="#fddbf6" d="M470.0,620.0 C474.5,620.8 485.3,622.8 497.0,625.0 C508.7,627.2 525.3,630.3 540.0,633.0 C554.7,635.7 575.0,639.1 585.0,641.0 C595.0,642.9 595.7,642.8 600.0,644.5 C604.3,646.2 609.2,649.9 611.0,651.0 L636,652 L636.0,652.0 C636.8,651.4 639.2,649.3 641.0,648.5 C642.8,647.7 643.8,647.2 647.0,647.0 C650.2,646.8 652.8,646.8 660.0,647.0 C667.2,647.2 682.0,648.2 690.0,648.5 C698.0,648.8 702.7,649.2 708.0,649.0 C713.3,648.8 715.8,648.3 722.0,647.0 C728.2,645.7 737.5,643.1 745.0,641.0 C752.5,638.9 759.5,636.7 767.0,634.5 C774.5,632.3 783.5,630.0 790.0,627.6 C796.5,625.2 801.3,622.6 806.0,620.0 C810.7,617.4 813.7,614.4 818.0,612.2 C822.3,610.0 827.5,608.2 832.0,606.6 C836.5,605.0 840.8,603.7 845.0,602.5 C849.2,601.3 852.8,600.8 857.2,599.6 C861.6,598.4 867.4,596.0 871.2,595.4 C875.0,594.8 877.2,595.5 880.0,596.0 C882.8,596.5 884.3,597.4 888.0,598.2 C891.7,599.0 897.3,599.8 902.0,601.0 C906.7,602.2 911.2,603.8 916.0,605.2 C920.8,606.6 925.9,607.9 931.0,609.5 C936.1,611.1 941.5,613.1 946.8,615.0 C952.1,616.9 957.4,618.9 963.0,621.0 C968.6,623.1 973.8,624.2 980.4,627.6 C987.0,631.0 994.9,636.9 1002.8,641.6 C1010.7,646.3 1016.8,651.4 1028.0,655.6 C1039.2,659.8 1041.3,661.1 1070.0,666.8 C1098.7,672.5 1178.3,686.1 1200.0,690.0 L1200.0,857.0 C1166.7,852.8 1039.7,837.8 1000.0,832.0 C960.3,826.2 972.8,824.8 962.0,822.0 C951.2,819.2 942.3,815.3 935.0,815.0 C927.7,814.7 923.7,819.0 918.0,820.0 C912.3,821.0 906.5,821.1 901.0,821.0 C895.5,820.9 890.7,820.4 885.0,819.5 C879.3,818.6 872.7,816.6 867.0,815.5 C861.3,814.4 856.7,814.6 851.0,813.0 C845.3,811.4 839.0,808.0 833.0,806.0 C827.0,804.0 820.5,802.7 815.0,801.0 C809.5,799.3 806.7,798.5 800.0,796.0 C793.3,793.5 783.3,789.8 775.0,786.0 C766.7,782.2 756.2,777.0 750.0,773.0 C743.8,769.0 742.2,765.1 738.0,762.0 C733.8,758.9 731.3,756.6 725.0,754.5 C718.7,752.4 708.7,750.8 700.0,749.5 C691.3,748.2 680.1,747.8 673.0,747.0 C665.9,746.2 661.0,745.9 657.1,745.0 C653.2,744.1 651.3,743.2 649.5,741.5 C647.7,739.8 647.2,737.3 646.5,735.0 C645.8,732.7 645.4,728.8 645.2,727.5 L573,740 L573.0,740.0 C568.3,739.7 554.7,738.8 545.0,738.0 C535.3,737.2 523.8,736.2 515.0,735.0 C506.2,733.8 499.5,732.2 492.0,731.0 C484.5,729.8 473.7,728.5 470.0,728.0 Z"/></g>
<path fill="#111" d="M496.9,625.4 L500.2,626.2 L504.6,627.1 L509.7,628.2 L515.5,629.4 L521.7,630.6 L527.9,631.9 L534.0,633.1 L539.8,634.2 L545.5,635.3 L551.6,636.5 L557.8,637.6 L564.0,638.7 L570.0,639.8 L575.5,640.8 L580.5,641.7 L584.7,642.5 L588.1,643.1 L590.7,643.6 L592.7,644.0 L594.3,644.3 L595.6,644.6 L596.8,645.0 L598.0,645.4 L599.4,645.9 L601.0,646.6 L602.6,647.4 L604.1,648.3 L605.6,649.2 L607.1,650.1 L608.3,650.9 L609.4,651.7 L610.2,652.2 L611.8,649.8 L611.0,649.3 L609.9,648.6 L608.7,647.7 L607.2,646.7 L605.7,645.7 L604.0,644.8 L602.3,643.9 L600.6,643.1 L599.0,642.5 L597.7,642.1 L596.4,641.7 L595.0,641.3 L593.3,641.0 L591.2,640.6 L588.6,640.1 L585.3,639.5 L581.1,638.7 L576.1,637.8 L570.5,636.9 L564.5,635.8 L558.3,634.8 L552.1,633.7 L546.0,632.7 L540.2,631.8 L534.4,630.8 L528.3,629.7 L522.0,628.7 L515.9,627.6 L510.0,626.6 L504.8,625.8 L500.4,625.1 L497.1,624.6 Z"/>
<path class="k" stroke-width="2.9" d="M636.0,652.0 C636.8,651.4 639.2,649.3 641.0,648.5 C642.8,647.7 643.8,647.2 647.0,647.0 C650.2,646.8 652.8,646.8 660.0,647.0 C667.2,647.2 682.0,648.2 690.0,648.5 C698.0,648.8 702.7,649.2 708.0,649.0 C713.3,648.8 715.8,648.3 722.0,647.0 C728.2,645.7 737.5,643.1 745.0,641.0 C752.5,638.9 759.5,636.7 767.0,634.5 C774.5,632.3 783.5,630.0 790.0,627.6 C796.5,625.2 801.3,622.6 806.0,620.0 C810.7,617.4 813.7,614.4 818.0,612.2 C822.3,610.0 827.5,608.2 832.0,606.6 C836.5,605.0 840.8,603.7 845.0,602.5 C849.2,601.3 852.8,600.8 857.2,599.6 C861.6,598.4 867.4,596.0 871.2,595.4 C875.0,594.8 877.2,595.5 880.0,596.0 C882.8,596.5 884.3,597.4 888.0,598.2 C891.7,599.0 897.3,599.8 902.0,601.0 C906.7,602.2 911.2,603.8 916.0,605.2 C920.8,606.6 925.9,607.9 931.0,609.5 C936.1,611.1 941.5,613.1 946.8,615.0 C952.1,616.9 957.4,618.9 963.0,621.0 C968.6,623.1 977.5,626.5 980.4,627.6"/>
<path fill="#111" d="M962.5,622.5 L963.8,622.9 L965.5,623.5 L967.6,624.1 L969.8,624.9 L972.2,625.7 L974.7,626.6 L977.3,627.7 L979.7,628.9 L982.3,630.2 L985.0,631.8 L987.9,633.5 L990.8,635.4 L993.8,637.3 L996.7,639.1 L999.6,640.9 L1002.3,642.5 L1005.0,644.0 L1007.9,645.5 L1010.7,647.0 L1013.5,648.5 L1016.1,649.8 L1018.4,651.0 L1020.4,652.0 L1021.9,652.7 L1022.1,652.3 L1020.7,651.4 L1018.8,650.2 L1016.6,648.9 L1014.1,647.4 L1011.4,645.7 L1008.7,644.1 L1005.9,642.4 L1003.3,640.7 L1000.7,639.0 L997.9,637.2 L995.1,635.3 L992.2,633.3 L989.3,631.3 L986.4,629.5 L983.7,627.8 L981.1,626.3 L978.5,625.1 L975.8,623.9 L973.3,622.9 L970.8,622.0 L968.5,621.2 L966.5,620.6 L964.8,620.0 L963.5,619.5 Z"/>
<path class="k" stroke-width="3" d="M935.0,815.0 C932.2,815.8 923.7,819.0 918.0,820.0 C912.3,821.0 906.5,821.1 901.0,821.0 C895.5,820.9 890.7,820.4 885.0,819.5 C879.3,818.6 872.7,816.6 867.0,815.5 C861.3,814.4 856.7,814.6 851.0,813.0 C845.3,811.4 839.0,808.0 833.0,806.0 C827.0,804.0 820.5,802.7 815.0,801.0 C809.5,799.3 806.7,798.5 800.0,796.0 C793.3,793.5 783.3,789.8 775.0,786.0 C766.7,782.2 756.2,777.0 750.0,773.0 C743.8,769.0 742.2,765.1 738.0,762.0 C733.8,758.9 731.3,756.6 725.0,754.5 C718.7,752.4 708.7,750.8 700.0,749.5 C691.3,748.2 680.1,747.8 673.0,747.0 C665.9,746.2 661.0,745.9 657.1,745.0 C653.2,744.1 651.3,743.2 649.5,741.5 C647.7,739.8 647.2,737.3 646.5,735.0 C645.8,732.7 645.4,728.8 645.2,727.5"/>
<path fill="#111" d="M573.1,738.6 L570.9,738.4 L568.1,738.2 L564.7,738.0 L561.0,737.7 L557.0,737.4 L552.9,737.1 L548.9,736.8 L545.1,736.5 L541.4,736.2 L537.6,735.8 L533.7,735.5 L529.8,735.1 L526.0,734.7 L522.2,734.3 L518.6,734.0 L515.2,733.6 L511.8,733.2 L508.4,732.7 L505.1,732.3 L501.8,731.8 L498.8,731.4 L496.1,731.0 L493.8,730.7 L492.1,730.6 L491.9,731.4 L493.6,731.9 L495.8,732.5 L498.5,733.1 L501.4,733.8 L504.7,734.5 L508.0,735.2 L511.4,735.9 L514.8,736.4 L518.3,736.9 L521.9,737.3 L525.7,737.8 L529.5,738.2 L533.4,738.5 L537.3,738.9 L541.2,739.2 L544.9,739.5 L548.7,739.8 L552.7,740.1 L556.8,740.4 L560.8,740.7 L564.5,740.9 L567.9,741.1 L570.8,741.3 L572.9,741.4 Z"/>
<path fill="#111" d="M832.1,608.8 L833.7,608.7 L835.9,608.4 L838.4,608.0 L841.3,607.6 L844.3,607.2 L847.4,606.9 L850.3,606.6 L853.1,606.3 L855.7,606.2 L858.5,606.1 L861.2,606.0 L864.0,606.0 L866.6,606.0 L869.2,606.1 L871.7,606.2 L873.9,606.4 L875.9,606.6 L877.8,606.9 L879.5,607.3 L881.1,607.7 L882.7,608.2 L884.3,608.7 L885.9,609.3 L887.6,609.8 L889.4,610.4 L891.4,611.1 L893.4,611.8 L895.4,612.6 L897.3,613.3 L899.0,613.9 L900.4,614.5 L901.5,614.9 L902.5,612.3 L901.4,611.9 L900.0,611.3 L898.3,610.7 L896.4,610.0 L894.3,609.2 L892.3,608.5 L890.3,607.8 L888.4,607.2 L886.7,606.7 L885.1,606.2 L883.4,605.7 L881.8,605.3 L880.0,604.9 L878.2,604.5 L876.2,604.2 L874.1,604.0 L871.8,603.9 L869.3,603.9 L866.6,603.9 L863.9,603.9 L861.1,604.0 L858.4,604.2 L855.6,604.4 L852.9,604.7 L850.1,605.0 L847.2,605.4 L844.1,605.9 L841.1,606.4 L838.2,606.9 L835.7,607.4 L833.6,607.8 L831.9,608.2 Z"/>
<path fill="#111" d="M921.5,608.3 L922.4,608.8 L923.6,609.4 L925.1,610.0 L926.8,610.8 L928.5,611.6 L930.3,612.5 L932.0,613.3 L933.6,614.2 L935.2,615.2 L936.8,616.2 L938.4,617.3 L940.1,618.4 L941.7,619.5 L943.3,620.7 L944.7,621.8 L946.1,622.9 L947.3,624.0 L948.4,625.1 L949.4,626.1 L950.4,627.2 L951.3,628.3 L952.2,629.4 L953.1,630.6 L953.9,631.8 L954.7,633.0 L955.6,634.5 L956.4,636.0 L957.2,637.5 L957.9,639.0 L958.6,640.3 L959.1,641.4 L959.6,642.2 L962.0,641.0 L961.6,640.1 L961.1,639.0 L960.4,637.7 L959.6,636.2 L958.8,634.7 L957.9,633.1 L957.0,631.6 L956.1,630.2 L955.2,629.0 L954.3,627.8 L953.3,626.7 L952.3,625.5 L951.2,624.4 L950.1,623.3 L948.9,622.2 L947.5,621.1 L946.1,620.0 L944.6,618.9 L942.9,617.8 L941.2,616.7 L939.5,615.6 L937.8,614.6 L936.1,613.6 L934.4,612.8 L932.7,611.9 L930.9,611.1 L929.0,610.4 L927.2,609.6 L925.5,609.0 L924.0,608.5 L922.7,608.0 L921.7,607.7 Z"/>
<path fill="#111" d="M709.2,676.5 L709.5,675.9 L709.7,675.2 L710.0,674.3 L710.3,673.3 L710.7,672.2 L711.0,671.2 L711.4,670.2 L711.8,669.4 L712.3,668.6 L712.8,667.9 L713.4,667.2 L713.9,666.5 L714.6,665.8 L715.2,665.0 L715.8,664.3 L716.4,663.4 L717.0,662.6 L717.6,661.7 L718.1,660.9 L718.6,660.0 L719.2,659.2 L719.7,658.4 L720.2,657.7 L720.8,657.0 L721.3,656.3 L721.9,655.6 L722.5,655.0 L723.2,654.3 L723.8,653.7 L724.4,653.1 L725.0,652.6 L725.6,652.1 L726.1,651.7 L726.6,651.3 L727.1,650.9 L727.6,650.6 L728.1,650.3 L728.7,650.1 L729.2,649.8 L729.8,649.5 L730.2,649.3 L730.6,649.1 L730.9,648.9 L731.2,648.8 L731.6,648.7 L732.2,648.5 L733.1,648.2 L734.2,647.8 L735.7,647.3 L737.4,646.8 L739.4,646.1 L741.6,645.5 L743.8,644.8 L746.1,644.0 L748.4,643.3 L750.5,642.6 L752.8,641.8 L755.2,641.0 L757.6,640.1 L760.1,639.3 L762.4,638.4 L764.5,637.7 L766.2,637.1 L767.6,636.6 L766.4,633.4 L765.1,633.9 L763.4,634.5 L761.3,635.3 L759.0,636.1 L756.5,637.0 L754.0,637.8 L751.7,638.7 L749.5,639.4 L747.3,640.1 L745.1,640.8 L742.8,641.6 L740.6,642.3 L738.4,642.9 L736.4,643.6 L734.7,644.1 L733.2,644.6 L732.0,645.0 L731.2,645.3 L730.5,645.5 L730.0,645.7 L729.6,645.9 L729.2,646.0 L728.8,646.2 L728.2,646.5 L727.7,646.8 L727.1,647.1 L726.5,647.4 L725.9,647.7 L725.3,648.1 L724.7,648.5 L724.1,649.0 L723.4,649.5 L722.8,650.1 L722.1,650.7 L721.5,651.3 L720.8,652.0 L720.1,652.7 L719.5,653.5 L718.8,654.2 L718.2,655.0 L717.6,655.9 L717.1,656.7 L716.6,657.6 L716.1,658.5 L715.6,659.4 L715.1,660.3 L714.6,661.1 L714.2,662.0 L713.7,662.7 L713.2,663.5 L712.6,664.3 L712.1,665.1 L711.6,665.9 L711.0,666.8 L710.6,667.7 L710.2,668.6 L709.8,669.6 L709.5,670.7 L709.3,671.8 L709.0,672.9 L708.9,674.0 L708.7,674.9 L708.6,675.7 L708.6,676.3 Z"/>
<path fill="#111" d="M783.5,647.1 L783.6,646.7 L783.7,646.2 L783.8,645.6 L783.8,644.9 L783.9,644.2 L784.0,643.4 L784.1,642.8 L784.3,642.1 L784.4,641.5 L784.6,640.9 L784.8,640.3 L785.0,639.7 L785.2,639.1 L785.5,638.6 L785.7,638.0 L786.0,637.4 L786.2,636.9 L786.5,636.3 L786.8,635.8 L787.2,635.2 L787.5,634.7 L787.8,634.2 L788.2,633.7 L788.5,633.2 L788.9,632.7 L789.3,632.2 L789.7,631.7 L790.1,631.2 L790.5,630.7 L790.9,630.3 L791.2,629.9 L791.5,629.6 L789.5,628.0 L789.3,628.3 L789.0,628.6 L788.6,629.1 L788.2,629.6 L787.8,630.1 L787.3,630.7 L786.9,631.2 L786.5,631.8 L786.1,632.4 L785.8,632.9 L785.5,633.5 L785.2,634.1 L784.8,634.7 L784.5,635.3 L784.3,636.0 L784.0,636.6 L783.8,637.2 L783.6,637.9 L783.4,638.5 L783.2,639.2 L783.1,639.9 L782.9,640.5 L782.8,641.2 L782.7,641.9 L782.7,642.6 L782.7,643.3 L782.7,644.1 L782.7,644.8 L782.7,645.5 L782.8,646.2 L782.8,646.7 L782.9,647.1 Z"/>
<path fill="#111" d="M812.0,789.3 L814.1,789.8 L817.0,790.3 L820.4,791.0 L824.2,791.6 L828.2,792.3 L832.3,792.9 L836.3,793.4 L839.9,793.7 L843.3,794.0 L846.7,794.1 L850.0,794.2 L853.3,794.3 L856.7,794.2 L860.1,794.1 L863.6,793.9 L867.2,793.5 L870.9,793.1 L874.7,792.6 L878.6,792.0 L882.6,791.3 L886.6,790.5 L890.6,789.7 L894.5,788.7 L898.3,787.7 L902.3,786.5 L906.4,785.0 L910.6,783.4 L914.7,781.7 L918.6,780.1 L922.1,778.6 L925.0,777.3 L927.1,776.3 L926.9,775.7 L924.6,776.4 L921.6,777.4 L918.1,778.7 L914.1,780.1 L910.0,781.5 L905.7,783.0 L901.6,784.2 L897.7,785.3 L893.9,786.2 L890.0,787.0 L886.1,787.8 L882.1,788.4 L878.2,789.0 L874.3,789.6 L870.5,790.1 L866.8,790.5 L863.3,790.8 L859.9,791.1 L856.6,791.2 L853.3,791.3 L850.0,791.4 L846.8,791.4 L843.4,791.4 L840.1,791.3 L836.5,791.1 L832.5,790.8 L828.5,790.4 L824.4,789.9 L820.6,789.5 L817.1,789.1 L814.2,788.8 L812.0,788.7 Z"/>
</g>
<!-- PULMONARY ARTERY -->
<g id="pa">
<g mask="url(#mPA)"><path fill="#fddfbf" d="M380,212 L455.0,240.0 C456.2,242.0 459.5,248.3 462.0,252.0 C464.5,255.7 466.7,258.2 470.0,262.0 C473.3,265.8 477.5,270.8 482.0,275.0 C486.5,279.2 493.2,284.0 497.0,287.0 C500.8,290.0 502.5,291.3 505.0,293.0 C507.5,294.7 510.8,296.3 512.0,297.0 L512.0,297.0 C515.0,296.8 523.7,296.8 530.0,296.0 C536.3,295.2 543.3,293.8 550.0,292.0 C556.7,290.2 564.2,287.5 570.0,285.0 C575.8,282.5 580.0,280.2 585.0,277.0 C590.0,273.8 595.7,269.2 600.0,266.0 C604.3,262.8 607.3,260.3 611.0,257.5 C614.7,254.7 620.2,250.4 622.0,249.0 L622.0,249.0 C623.5,246.3 628.0,237.1 631.0,233.0 C634.0,228.9 636.7,227.1 640.0,224.5 C643.3,221.9 647.2,219.1 651.0,217.5 C654.8,215.9 658.7,215.2 663.0,215.0 C667.3,214.8 672.5,215.3 677.0,216.5 C681.5,217.7 685.8,219.6 690.0,222.0 C694.2,224.4 698.3,227.5 702.0,231.0 C705.7,234.5 708.7,238.5 712.0,243.0 C715.3,247.5 719.0,252.5 722.0,258.0 C725.0,263.5 728.2,271.0 730.0,276.0 C731.8,281.0 731.3,283.3 733.0,288.0 C734.7,292.7 737.7,298.8 740.0,304.0 C742.3,309.2 745.3,314.2 747.0,319.0 C748.7,323.8 749.4,328.5 750.0,333.0 C750.6,337.5 750.8,342.0 750.5,346.0 C750.2,350.0 749.2,353.7 748.0,357.0 C746.8,360.3 745.5,363.4 743.0,366.0 C740.5,368.6 736.8,370.5 733.0,372.5 C729.2,374.5 724.4,376.6 720.0,378.0 C715.6,379.4 708.7,380.5 706.4,381.0 L702.2,373.3 L702.2,373.3 C700.1,374.6 694.0,378.1 689.6,381.0 C685.2,383.9 681.2,386.6 675.6,390.8 C670.0,395.0 662.1,401.5 656.0,406.2 C649.9,410.9 645.0,415.1 639.2,418.8 C633.4,422.5 624.0,427.0 621.0,428.6 L621.0,430.0 C620.1,431.9 617.5,437.0 615.4,441.2 C613.3,445.4 610.0,451.7 608.4,455.2 C606.8,458.7 606.4,460.9 606.0,462.0 L604,470 L497,470 L495,446 L494.5,432 L493,419 L493.0,419.0 C490.8,418.2 484.3,416.2 480.0,414.0 C475.7,411.8 472.3,409.8 467.0,406.0 C461.7,402.2 453.7,396.0 448.0,391.0 C442.3,386.0 438.5,383.0 433.0,376.0 C427.5,369.0 420.5,358.5 415.0,349.0 C409.5,339.5 403.8,326.4 400.0,319.0 C396.2,311.6 393.8,306.8 392.5,304.4 L380,300 Z"/></g>
<path fill="#111" d="M454.7,240.2 L455.1,241.2 L455.7,242.5 L456.5,244.0 L457.3,245.8 L458.2,247.6 L459.2,249.4 L460.1,251.1 L461.1,252.6 L461.9,254.0 L462.8,255.3 L463.7,256.6 L464.6,257.8 L465.5,259.1 L466.5,260.3 L467.6,261.6 L468.8,263.0 L470.1,264.6 L471.4,266.2 L472.8,267.8 L474.3,269.5 L475.8,271.2 L477.4,273.0 L479.1,274.6 L480.8,276.3 L482.6,277.9 L484.6,279.6 L486.6,281.2 L488.7,282.8 L490.7,284.4 L492.6,285.8 L494.4,287.2 L495.9,288.4 L497.3,289.4 L498.5,290.3 L499.5,291.1 L500.5,291.9 L501.4,292.5 L502.3,293.1 L503.1,293.8 L504.1,294.4 L505.1,295.0 L506.2,295.6 L507.2,296.2 L508.2,296.8 L509.2,297.3 L510.0,297.7 L510.7,298.1 L511.3,298.3 L512.7,295.7 L512.2,295.3 L511.5,294.9 L510.7,294.5 L509.8,294.0 L508.8,293.4 L507.8,292.8 L506.8,292.2 L505.9,291.6 L505.0,291.0 L504.2,290.4 L503.4,289.8 L502.5,289.1 L501.6,288.4 L500.6,287.6 L499.4,286.7 L498.1,285.6 L496.5,284.4 L494.7,283.1 L492.8,281.6 L490.8,280.1 L488.8,278.5 L486.8,276.9 L484.9,275.3 L483.2,273.7 L481.6,272.2 L479.9,270.5 L478.4,268.9 L476.8,267.2 L475.3,265.6 L473.9,264.0 L472.5,262.4 L471.2,261.0 L470.0,259.6 L468.8,258.4 L467.8,257.2 L466.8,256.1 L465.8,254.9 L464.9,253.8 L463.9,252.6 L462.9,251.4 L461.9,250.0 L460.8,248.4 L459.7,246.7 L458.7,245.0 L457.7,243.4 L456.7,241.9 L455.9,240.7 L455.3,239.8 Z"/>
<path fill="#111" d="M512.1,298.5 L513.4,298.5 L515.2,298.5 L517.4,298.5 L519.8,298.4 L522.4,298.3 L525.1,298.2 L527.7,298.0 L530.2,297.7 L532.7,297.4 L535.1,297.0 L537.7,296.6 L540.2,296.2 L542.8,295.6 L545.4,295.1 L547.9,294.5 L550.5,293.8 L553.1,293.1 L555.7,292.3 L558.3,291.5 L561.0,290.6 L563.5,289.6 L566.1,288.7 L568.5,287.7 L570.8,286.8 L572.9,285.8 L574.9,284.9 L576.9,284.0 L578.7,283.0 L580.6,282.0 L582.4,280.9 L584.2,279.8 L586.1,278.6 L588.0,277.4 L590.0,276.0 L591.9,274.5 L593.9,273.1 L595.8,271.6 L597.7,270.2 L599.5,268.8 L601.1,267.5 L602.7,266.3 L604.2,265.2 L605.5,264.1 L606.9,263.0 L608.2,262.0 L609.4,261.0 L610.7,259.9 L612.1,258.9 L613.5,257.7 L615.0,256.5 L616.6,255.3 L618.2,254.0 L619.7,252.9 L621.0,251.8 L622.1,250.9 L622.9,250.2 L621.1,247.8 L620.2,248.4 L619.0,249.3 L617.7,250.3 L616.2,251.4 L614.6,252.6 L613.0,253.8 L611.4,255.0 L609.9,256.1 L608.6,257.2 L607.2,258.2 L605.9,259.2 L604.6,260.2 L603.3,261.2 L601.9,262.2 L600.4,263.3 L598.9,264.5 L597.2,265.8 L595.4,267.1 L593.5,268.6 L591.6,270.0 L589.7,271.4 L587.7,272.8 L585.8,274.1 L583.9,275.4 L582.1,276.5 L580.4,277.6 L578.6,278.6 L576.9,279.5 L575.1,280.5 L573.3,281.4 L571.3,282.3 L569.2,283.2 L567.0,284.1 L564.7,285.1 L562.2,286.0 L559.7,286.9 L557.1,287.8 L554.5,288.7 L552.0,289.5 L549.5,290.2 L547.0,290.9 L544.5,291.5 L542.0,292.1 L539.5,292.6 L537.0,293.1 L534.6,293.5 L532.1,293.9 L529.8,294.3 L527.4,294.6 L524.8,294.8 L522.2,295.0 L519.7,295.1 L517.3,295.2 L515.1,295.3 L513.3,295.4 L511.9,295.5 Z"/>
<path fill="#111" d="M623.4,249.7 L624.1,248.4 L625.0,246.7 L626.1,244.6 L627.3,242.3 L628.6,239.9 L629.9,237.7 L631.2,235.6 L632.3,234.0 L633.4,232.6 L634.4,231.5 L635.5,230.4 L636.5,229.5 L637.6,228.6 L638.7,227.7 L639.9,226.8 L641.1,225.9 L642.4,224.9 L643.6,224.0 L645.0,223.0 L646.3,222.1 L647.7,221.3 L649.0,220.5 L650.4,219.8 L651.7,219.2 L653.1,218.7 L654.4,218.3 L655.8,217.9 L657.2,217.6 L658.6,217.3 L660.1,217.2 L661.5,217.0 L663.1,217.0 L664.7,216.9 L666.3,217.0 L668.0,217.1 L669.7,217.2 L671.5,217.5 L673.2,217.7 L674.9,218.1 L676.5,218.5 L678.1,218.9 L679.7,219.4 L681.2,220.0 L682.8,220.7 L684.4,221.4 L685.9,222.1 L687.4,223.0 L688.9,223.8 L690.5,224.7 L692.0,225.7 L693.4,226.7 L694.9,227.8 L696.4,228.9 L697.8,230.1 L699.2,231.3 L700.5,232.6 L701.8,233.8 L703.0,235.2 L704.3,236.6 L705.4,238.0 L706.6,239.5 L707.8,241.0 L709.0,242.6 L710.2,244.3 L711.5,246.0 L712.8,247.8 L714.0,249.5 L715.3,251.4 L716.5,253.2 L717.8,255.1 L718.9,257.1 L720.1,259.1 L721.2,261.2 L722.3,263.4 L723.3,265.7 L724.4,268.1 L725.4,270.4 L726.3,272.7 L727.2,274.8 L727.9,276.8 L728.4,278.4 L728.8,279.9 L729.1,281.2 L729.4,282.5 L729.6,283.9 L729.9,285.4 L730.3,287.0 L730.9,288.7 L731.6,290.6 L732.4,292.6 L733.3,294.6 L734.2,296.7 L735.2,298.8 L736.1,300.9 L737.1,302.9 L738.0,304.9 L738.9,306.9 L739.9,308.8 L740.8,310.7 L741.8,312.6 L742.7,314.4 L743.5,316.2 L744.3,318.0 L744.9,319.7 L745.5,321.4 L746.0,323.2 L746.4,324.9 L746.8,326.6 L747.1,328.2 L747.4,329.9 L747.7,331.6 L747.9,333.3 L748.1,334.9 L748.3,336.6 L748.4,338.2 L748.5,339.8 L748.6,341.3 L748.6,342.9 L748.6,344.4 L748.5,345.8 L748.3,347.2 L748.2,348.6 L747.9,350.0 L747.7,351.3 L747.4,352.6 L747.0,353.9 L746.6,355.1 L746.2,356.3 L745.8,357.5 L745.3,358.7 L744.8,359.8 L744.3,360.9 L743.8,362.0 L743.2,362.9 L742.5,363.9 L741.7,364.8 L740.8,365.6 L739.9,366.4 L738.8,367.2 L737.6,368.0 L736.4,368.8 L735.0,369.5 L733.7,370.3 L732.3,371.1 L730.8,371.8 L729.3,372.6 L727.7,373.3 L726.1,374.1 L724.5,374.8 L722.8,375.4 L721.2,376.1 L719.6,376.6 L718.0,377.2 L716.4,377.6 L714.8,378.0 L713.2,378.4 L711.5,378.8 L709.8,379.1 L708.0,379.5 L706.2,379.8 L704.2,380.1 L701.9,380.4 L699.5,380.7 L697.1,381.0 L694.8,381.3 L692.7,381.5 L690.9,381.8 L689.4,382.0 L688.4,382.3 L687.7,382.6 L687.1,383.1 L686.9,383.9 L687.1,384.4 L687.3,384.7 L687.3,384.6 L687.3,384.4 L688.7,384.6 L688.7,384.2 L688.6,383.8 L688.5,383.7 L688.6,383.9 L688.5,384.2 L688.5,384.2 L688.9,384.1 L689.8,384.0 L691.1,383.8 L692.9,383.6 L695.0,383.4 L697.4,383.2 L699.8,383.0 L702.2,382.7 L704.5,382.5 L706.6,382.2 L708.5,381.9 L710.3,381.6 L712.0,381.3 L713.7,381.0 L715.4,380.7 L717.1,380.3 L718.7,379.8 L720.4,379.4 L722.2,378.8 L723.9,378.2 L725.6,377.6 L727.3,376.9 L729.0,376.2 L730.6,375.4 L732.2,374.7 L733.7,373.9 L735.2,373.2 L736.6,372.5 L738.0,371.7 L739.4,370.9 L740.7,370.1 L742.0,369.2 L743.2,368.3 L744.3,367.2 L745.3,366.1 L746.2,365.0 L746.9,363.8 L747.6,362.6 L748.2,361.4 L748.8,360.2 L749.3,358.9 L749.8,357.7 L750.3,356.4 L750.7,355.0 L751.2,353.6 L751.5,352.2 L751.9,350.7 L752.1,349.3 L752.4,347.7 L752.5,346.2 L752.6,344.6 L752.7,342.9 L752.7,341.3 L752.7,339.6 L752.6,337.9 L752.5,336.2 L752.3,334.5 L752.1,332.7 L751.9,331.0 L751.6,329.3 L751.4,327.5 L751.0,325.7 L750.6,323.9 L750.2,322.0 L749.7,320.2 L749.1,318.3 L748.4,316.4 L747.5,314.4 L746.7,312.5 L745.7,310.6 L744.8,308.7 L743.8,306.9 L742.9,305.0 L742.0,303.1 L741.1,301.1 L740.2,299.0 L739.2,297.0 L738.3,294.9 L737.4,292.9 L736.5,290.9 L735.8,289.0 L735.1,287.3 L734.6,285.7 L734.3,284.4 L734.0,283.0 L733.8,281.7 L733.5,280.3 L733.2,278.8 L732.7,277.1 L732.1,275.2 L731.3,273.2 L730.5,271.0 L729.5,268.7 L728.5,266.3 L727.4,263.9 L726.3,261.5 L725.1,259.1 L723.9,256.9 L722.8,254.8 L721.5,252.8 L720.2,250.8 L718.9,248.9 L717.6,247.0 L716.3,245.2 L715.0,243.4 L713.8,241.7 L712.5,240.0 L711.3,238.4 L710.0,236.8 L708.8,235.3 L707.5,233.7 L706.2,232.3 L704.9,230.8 L703.5,229.4 L702.0,228.1 L700.5,226.8 L699.0,225.6 L697.5,224.4 L695.9,223.3 L694.3,222.2 L692.7,221.2 L691.1,220.2 L689.4,219.3 L687.8,218.4 L686.1,217.6 L684.4,216.9 L682.7,216.2 L681.0,215.6 L679.3,215.0 L677.5,214.5 L675.7,214.1 L673.9,213.8 L672.0,213.5 L670.1,213.3 L668.3,213.1 L666.5,213.0 L664.7,213.0 L662.9,213.0 L661.3,213.1 L659.6,213.3 L658.0,213.5 L656.4,213.8 L654.9,214.2 L653.3,214.7 L651.8,215.2 L650.3,215.8 L648.7,216.5 L647.2,217.3 L645.8,218.2 L644.3,219.1 L642.9,220.1 L641.5,221.1 L640.2,222.1 L638.9,223.1 L637.7,224.0 L636.5,225.0 L635.4,225.9 L634.2,226.9 L633.1,228.0 L632.0,229.2 L630.8,230.5 L629.7,232.0 L628.4,233.9 L627.1,236.0 L625.8,238.4 L624.5,240.8 L623.3,243.1 L622.2,245.2 L621.3,247.0 L620.6,248.3 Z"/>
<path fill="#111" d="M620.6,427.0 L619.6,427.2 L618.2,427.5 L616.5,427.9 L614.6,428.4 L612.7,428.8 L610.9,429.2 L609.1,429.6 L607.7,430.0 L606.5,430.3 L605.4,430.5 L604.5,430.8 L603.7,431.0 L602.9,431.2 L602.0,431.3 L601.0,431.5 L599.9,431.7 L598.6,431.9 L597.0,432.0 L595.3,432.1 L593.5,432.2 L591.8,432.4 L590.2,432.5 L589.0,432.6 L588.0,432.7 L588.0,433.3 L589.0,433.4 L590.3,433.5 L591.8,433.6 L593.5,433.7 L595.3,433.8 L597.0,433.9 L598.7,433.9 L600.1,433.9 L601.3,433.9 L602.3,433.8 L603.3,433.8 L604.2,433.7 L605.1,433.6 L606.0,433.4 L607.1,433.2 L608.3,433.0 L609.8,432.7 L611.5,432.4 L613.4,432.0 L615.4,431.6 L617.2,431.2 L618.9,430.8 L620.3,430.5 L621.4,430.2 Z"/>
<path fill="#111" d="M501.7,302.7 L502.1,302.5 L502.8,302.1 L503.5,301.7 L504.3,301.2 L505.1,300.7 L506.0,300.2 L506.7,299.7 L507.4,299.4 L508.0,299.0 L508.7,298.7 L509.3,298.4 L510.0,298.2 L510.6,297.9 L511.1,297.7 L511.5,297.5 L511.9,297.3 L511.1,295.7 L510.8,295.8 L510.3,296.0 L509.8,296.3 L509.2,296.6 L508.6,296.9 L507.9,297.2 L507.3,297.6 L506.6,298.0 L505.9,298.5 L505.2,299.1 L504.4,299.7 L503.6,300.3 L502.9,300.9 L502.3,301.4 L501.7,301.9 L501.3,302.3 Z"/>
<path fill="#111" d="M702.0,372.9 L700.9,373.4 L699.6,374.0 L698.0,374.8 L696.2,375.7 L694.4,376.6 L692.5,377.7 L690.6,378.7 L688.8,379.7 L687.1,380.8 L685.4,381.8 L683.7,382.8 L682.0,383.9 L680.2,385.1 L678.4,386.3 L676.4,387.7 L674.4,389.2 L672.1,390.8 L669.7,392.7 L667.2,394.6 L664.7,396.7 L662.1,398.7 L659.5,400.8 L657.1,402.7 L654.7,404.6 L652.5,406.3 L650.4,408.0 L648.3,409.6 L646.3,411.2 L644.3,412.8 L642.2,414.3 L640.2,415.7 L638.1,417.1 L635.9,418.5 L633.4,420.0 L630.8,421.4 L628.2,422.8 L625.7,424.1 L623.5,425.2 L621.6,426.2 L620.2,427.0 L621.8,430.2 L623.3,429.5 L625.1,428.6 L627.4,427.5 L629.9,426.2 L632.6,424.8 L635.3,423.4 L637.9,421.9 L640.3,420.5 L642.5,419.0 L644.6,417.6 L646.7,416.0 L648.8,414.5 L650.8,412.9 L652.9,411.2 L655.1,409.6 L657.3,407.8 L659.6,406.0 L662.1,404.1 L664.7,402.0 L667.3,400.0 L669.8,397.9 L672.3,396.0 L674.7,394.1 L676.8,392.4 L678.8,390.9 L680.7,389.5 L682.4,388.2 L684.1,386.9 L685.7,385.7 L687.3,384.6 L688.8,383.4 L690.4,382.3 L692.1,381.1 L693.8,379.8 L695.6,378.6 L697.3,377.4 L698.9,376.3 L700.3,375.3 L701.5,374.4 L702.4,373.7 Z"/>
<path fill="#111" d="M619.2,429.1 L618.8,430.0 L618.3,431.1 L617.6,432.4 L616.9,433.9 L616.1,435.4 L615.3,437.1 L614.5,438.7 L613.7,440.3 L612.8,442.0 L611.9,443.8 L611.0,445.7 L610.0,447.6 L609.1,449.5 L608.2,451.3 L607.4,453.0 L606.7,454.4 L606.2,455.7 L605.7,456.9 L605.4,458.0 L605.1,458.9 L604.8,459.8 L604.7,460.5 L604.5,461.0 L604.4,461.5 L607.6,462.5 L607.8,462.0 L608.0,461.4 L608.2,460.8 L608.5,460.0 L608.8,459.2 L609.1,458.2 L609.6,457.1 L610.1,456.0 L610.7,454.6 L611.5,453.0 L612.4,451.2 L613.4,449.3 L614.4,447.4 L615.4,445.5 L616.3,443.7 L617.1,442.1 L617.9,440.5 L618.8,438.8 L619.6,437.2 L620.4,435.6 L621.1,434.1 L621.8,432.8 L622.3,431.7 L622.8,430.9 Z"/>
<path fill="#111" d="M392.1,304.6 L392.6,305.7 L393.1,306.9 L393.8,308.4 L394.6,310.2 L395.5,312.1 L396.6,314.3 L397.8,316.8 L399.0,319.5 L400.5,322.5 L402.0,326.0 L403.8,329.8 L405.6,333.8 L407.6,337.9 L409.6,342.0 L411.6,346.0 L413.6,349.8 L415.7,353.4 L417.9,357.1 L420.2,360.8 L422.5,364.4 L424.8,367.9 L427.1,371.2 L429.4,374.3 L431.5,377.2 L433.5,379.7 L435.4,381.9 L437.2,383.9 L439.0,385.7 L440.8,387.4 L442.7,389.1 L444.6,390.8 L446.6,392.6 L448.9,394.5 L451.3,396.5 L453.8,398.6 L456.3,400.6 L458.9,402.6 L461.3,404.4 L463.6,406.1 L465.8,407.7 L467.7,409.1 L469.5,410.3 L471.2,411.4 L472.8,412.3 L474.4,413.3 L475.9,414.1 L477.5,414.9 L479.2,415.7 L480.8,416.5 L482.6,417.2 L484.3,417.8 L486.0,418.4 L487.6,419.0 L489.3,419.5 L490.9,420.0 L492.5,420.5 L494.1,421.0 L495.6,421.4 L497.1,421.9 L498.7,422.3 L500.2,422.6 L501.7,423.0 L503.2,423.3 L504.8,423.6 L506.4,423.8 L508.2,424.0 L509.9,424.1 L511.7,424.2 L513.3,424.3 L514.8,424.4 L516.0,424.4 L517.0,424.4 L517.0,423.6 L516.1,423.4 L514.9,423.2 L513.4,423.0 L511.8,422.7 L510.1,422.4 L508.4,422.1 L506.7,421.8 L505.2,421.4 L503.8,421.0 L502.3,420.6 L500.9,420.2 L499.5,419.7 L498.0,419.2 L496.5,418.6 L495.0,418.1 L493.5,417.5 L491.9,416.9 L490.4,416.3 L488.8,415.7 L487.2,415.1 L485.6,414.5 L484.0,413.8 L482.4,413.1 L480.8,412.3 L479.3,411.5 L477.8,410.6 L476.4,409.8 L474.9,408.9 L473.4,407.9 L471.8,406.9 L470.1,405.7 L468.2,404.3 L466.1,402.8 L463.8,401.1 L461.4,399.2 L458.9,397.3 L456.4,395.3 L453.9,393.3 L451.6,391.3 L449.4,389.4 L447.3,387.7 L445.4,386.0 L443.6,384.4 L441.8,382.8 L440.1,381.1 L438.3,379.3 L436.5,377.2 L434.5,374.8 L432.4,372.1 L430.1,369.1 L427.8,365.9 L425.5,362.5 L423.1,358.9 L420.8,355.4 L418.5,351.8 L416.4,348.2 L414.3,344.6 L412.2,340.7 L410.1,336.7 L408.1,332.6 L406.1,328.7 L404.3,325.0 L402.5,321.5 L401.0,318.5 L399.6,315.9 L398.3,313.5 L397.1,311.4 L396.0,309.5 L395.0,307.8 L394.2,306.4 L393.5,305.2 L392.9,304.2 Z"/>
<path fill="#111" d="M491.3,419.2 L491.5,420.2 L491.6,421.5 L491.8,423.1 L492.1,424.8 L492.3,426.7 L492.6,428.5 L492.8,430.4 L492.9,432.1 L493.1,433.9 L493.2,435.8 L493.3,437.8 L493.5,439.9 L493.6,441.8 L493.7,443.5 L493.8,444.9 L493.9,446.0 L496.1,446.0 L496.2,444.9 L496.2,443.4 L496.2,441.7 L496.2,439.8 L496.2,437.7 L496.2,435.7 L496.1,433.7 L496.1,431.9 L495.9,430.1 L495.8,428.2 L495.6,426.3 L495.4,424.4 L495.1,422.7 L495.0,421.1 L494.8,419.8 L494.7,418.8 Z"/>
</g>
<!-- AORTA -->
<g id="aorta">
<path fill="#f8f7d7" d="M478.0,548.4 C474.7,546.3 462.3,542.7 458.0,536.0 C453.7,529.3 451.7,517.3 452.0,508.0 C452.3,498.7 456.2,487.5 460.0,480.0 C463.8,472.5 471.0,467.2 475.0,463.0 C479.0,458.8 480.3,456.7 484.0,454.5 C487.7,452.3 491.8,451.1 497.0,450.0 C502.2,448.9 509.0,448.3 515.0,448.0 C521.0,447.7 525.8,447.7 533.0,448.0 C540.2,448.3 549.7,449.2 558.0,450.0 C566.3,450.8 576.0,452.0 583.0,453.0 C590.0,454.0 595.0,455.0 600.0,456.0 C605.0,457.0 608.7,457.8 613.0,459.0 C617.3,460.2 621.5,461.7 626.0,463.0 C630.5,464.3 636.2,466.2 640.0,467.0 C643.8,467.8 647.5,467.7 649.0,467.8 L649.0,467.8 C651.0,467.4 657.0,466.7 661.0,465.5 C665.0,464.3 669.6,462.5 672.8,460.8 C676.0,459.1 677.7,457.4 680.0,455.5 C682.3,453.6 684.7,451.7 686.8,449.6 C688.9,447.5 690.6,445.3 692.5,443.0 C694.4,440.7 695.9,438.1 698.0,435.6 C700.1,433.1 702.7,430.3 705.0,428.0 C707.3,425.7 709.7,423.4 712.0,421.6 C714.3,419.9 716.7,418.7 719.0,417.5 C721.3,416.3 723.9,415.4 726.0,414.6 C728.1,413.9 729.6,413.5 731.5,413.0 C733.4,412.5 734.8,412.1 737.2,411.8 C739.6,411.5 743.0,411.1 746.0,411.0 C749.0,410.9 752.5,411.2 755.0,411.5 C757.5,411.8 758.5,411.8 761.0,412.5 C763.5,413.2 766.0,414.1 770.0,416.0 C774.0,417.9 780.2,421.2 785.0,424.0 C789.8,426.8 795.8,430.5 798.8,432.8 C801.8,435.1 801.8,436.1 803.0,438.0 C804.2,439.9 805.0,441.8 805.8,444.0 C806.6,446.2 807.4,448.7 808.0,451.0 C808.6,453.3 808.9,455.2 809.3,458.0 C809.7,460.8 810.2,464.3 810.5,468.0 C810.8,471.7 811.0,476.7 811.0,480.0 C811.0,483.3 811.2,485.3 810.5,488.0 C809.8,490.7 808.2,493.0 806.8,496.0 C805.4,499.0 803.4,502.7 802.0,506.0 C800.6,509.3 798.7,512.6 798.4,515.6 C798.1,518.6 799.1,521.2 800.0,524.0 C800.9,526.8 803.0,528.4 804.0,532.4 C805.0,536.4 805.5,542.9 806.0,548.0 C806.5,553.1 807.0,558.2 806.8,563.2 C806.6,568.2 805.9,573.3 805.0,578.0 C804.1,582.7 802.7,587.9 801.2,591.2 C799.7,594.5 797.9,596.1 796.0,598.0 C794.1,599.9 792.0,601.3 790.0,602.4 C788.0,603.5 786.8,603.6 784.0,604.5 C781.2,605.4 776.7,606.7 773.0,607.5 C769.3,608.3 765.8,609.1 762.0,609.5 C758.2,609.9 754.5,610.1 750.0,610.0 C745.5,609.9 740.0,610.0 735.0,609.0 C730.0,608.0 724.0,605.5 720.0,604.0 C716.0,602.5 713.8,601.5 711.0,600.0 C708.2,598.5 705.9,597.2 703.4,595.0 C700.9,592.8 698.5,589.6 696.0,587.0 C693.5,584.4 689.7,580.4 688.4,579.1 L688.4,579.1 C686.5,579.7 680.7,581.1 677.0,582.5 C673.3,583.9 670.0,585.4 666.0,587.5 C662.0,589.6 657.3,592.1 653.0,595.0 C648.7,597.9 645.5,602.2 640.0,605.0 C634.5,607.8 626.7,610.0 620.0,612.0 C613.3,614.0 605.5,615.8 600.0,617.0 C594.5,618.2 591.5,618.5 587.0,619.0 C582.5,619.5 577.8,619.6 573.0,620.0 C568.2,620.4 563.0,621.2 558.0,621.5 C553.0,621.8 547.7,622.0 543.0,622.0 C538.3,622.0 534.3,621.8 530.0,621.5 C525.7,621.2 522.0,620.8 517.0,620.0 C512.0,619.2 505.7,617.8 500.0,616.5 C494.3,615.2 488.5,614.1 483.0,612.0 C477.5,609.9 471.2,606.3 467.0,604.0 C462.8,601.7 460.8,600.5 458.0,598.0 C455.2,595.5 451.8,592.7 450.0,589.0 C448.2,585.3 446.5,579.5 447.0,576.0 C447.5,572.5 449.5,571.0 452.8,568.0 C456.1,565.0 462.6,561.3 466.8,558.0 C471.0,554.7 476.1,550.0 478.0,548.4 Z"/>
<path class="k" stroke-width="3" d="M475.0,463.0 C476.5,461.6 480.3,456.7 484.0,454.5 C487.7,452.3 491.8,451.1 497.0,450.0 C502.2,448.9 509.0,448.3 515.0,448.0 C521.0,447.7 525.8,447.7 533.0,448.0 C540.2,448.3 549.7,449.2 558.0,450.0 C566.3,450.8 576.0,452.0 583.0,453.0 C590.0,454.0 595.0,455.0 600.0,456.0 C605.0,457.0 608.7,457.8 613.0,459.0 C617.3,460.2 621.5,461.7 626.0,463.0 C630.5,464.3 636.2,466.2 640.0,467.0 C643.8,467.8 647.5,467.7 649.0,467.8"/>
<path class="k" stroke-width="3" d="M649.0,467.8 C651.0,467.4 657.0,466.7 661.0,465.5 C665.0,464.3 669.6,462.5 672.8,460.8 C676.0,459.1 677.7,457.4 680.0,455.5 C682.3,453.6 684.7,451.7 686.8,449.6 C688.9,447.5 690.6,445.3 692.5,443.0 C694.4,440.7 695.9,438.1 698.0,435.6 C700.1,433.1 702.7,430.3 705.0,428.0 C707.3,425.7 709.7,423.4 712.0,421.6 C714.3,419.9 716.7,418.7 719.0,417.5 C721.3,416.3 723.9,415.4 726.0,414.6 C728.1,413.9 729.6,413.5 731.5,413.0 C733.4,412.5 734.8,412.1 737.2,411.8 C739.6,411.5 743.0,411.1 746.0,411.0 C749.0,410.9 752.5,411.2 755.0,411.5 C757.5,411.8 758.5,411.8 761.0,412.5 C763.5,413.2 766.0,414.1 770.0,416.0 C774.0,417.9 780.2,421.2 785.0,424.0 C789.8,426.8 795.8,430.5 798.8,432.8 C801.8,435.1 801.8,436.1 803.0,438.0 C804.2,439.9 805.0,441.8 805.8,444.0 C806.6,446.2 807.4,448.7 808.0,451.0 C808.6,453.3 808.9,455.2 809.3,458.0 C809.7,460.8 810.2,464.3 810.5,468.0 C810.8,471.7 811.0,476.7 811.0,480.0 C811.0,483.3 811.2,485.3 810.5,488.0 C809.8,490.7 808.2,493.0 806.8,496.0 C805.4,499.0 803.4,502.7 802.0,506.0 C800.6,509.3 798.7,512.6 798.4,515.6 C798.1,518.6 799.1,521.2 800.0,524.0 C800.9,526.8 803.0,528.4 804.0,532.4 C805.0,536.4 805.5,542.9 806.0,548.0 C806.5,553.1 807.0,558.2 806.8,563.2 C806.6,568.2 805.9,573.3 805.0,578.0 C804.1,582.7 802.7,587.9 801.2,591.2 C799.7,594.5 797.9,596.1 796.0,598.0 C794.1,599.9 792.0,601.3 790.0,602.4 C788.0,603.5 786.8,603.6 784.0,604.5 C781.2,605.4 776.7,606.7 773.0,607.5 C769.3,608.3 765.8,609.1 762.0,609.5 C758.2,609.9 754.5,610.1 750.0,610.0 C745.5,609.9 740.0,610.0 735.0,609.0 C730.0,608.0 724.0,605.5 720.0,604.0 C716.0,602.5 713.8,601.5 711.0,600.0 C708.2,598.5 705.9,597.2 703.4,595.0 C700.9,592.8 698.5,589.6 696.0,587.0 C693.5,584.4 689.7,580.4 688.4,579.1"/>
<path class="k" stroke-width="3.2" d="M688.4,579.1 C686.5,579.7 680.7,581.1 677.0,582.5 C673.3,583.9 670.0,585.4 666.0,587.5 C662.0,589.6 657.3,592.1 653.0,595.0 C648.7,597.9 645.5,602.2 640.0,605.0 C634.5,607.8 626.7,610.0 620.0,612.0 C613.3,614.0 605.5,615.8 600.0,617.0 C594.5,618.2 591.5,618.5 587.0,619.0 C582.5,619.5 577.8,619.6 573.0,620.0 C568.2,620.4 563.0,621.2 558.0,621.5 C553.0,621.8 547.7,622.0 543.0,622.0 C538.3,622.0 534.3,621.8 530.0,621.5 C525.7,621.2 522.0,620.8 517.0,620.0 C512.0,619.2 505.7,617.8 500.0,616.5 C494.3,615.2 488.5,614.1 483.0,612.0 C477.5,609.9 471.2,606.3 467.0,604.0 C462.8,601.7 460.8,600.5 458.0,598.0 C455.2,595.5 451.8,592.7 450.0,589.0 C448.2,585.3 446.5,579.5 447.0,576.0 C447.5,572.5 449.5,571.0 452.8,568.0 C456.1,565.0 462.6,561.3 466.8,558.0 C471.0,554.7 476.1,550.0 478.0,548.4"/>
<path fill="#111" d="M630.5,477.6 L631.6,477.7 L633.2,477.7 L635.0,477.8 L637.0,477.9 L639.1,478.0 L641.2,478.1 L643.2,478.2 L645.0,478.3 L646.6,478.4 L648.1,478.5 L649.6,478.5 L651.0,478.6 L652.4,478.7 L653.8,478.9 L655.1,479.1 L656.5,479.3 L657.9,479.7 L659.5,480.1 L661.1,480.7 L662.7,481.2 L664.2,481.8 L665.5,482.3 L666.7,482.7 L667.5,483.1 L668.3,480.9 L667.4,480.6 L666.3,480.2 L664.9,479.7 L663.4,479.2 L661.8,478.6 L660.1,478.1 L658.5,477.6 L656.9,477.3 L655.4,477.0 L654.0,476.9 L652.5,476.8 L651.1,476.7 L649.6,476.7 L648.2,476.7 L646.6,476.7 L645.0,476.7 L643.2,476.7 L641.2,476.7 L639.1,476.8 L637.0,476.8 L635.0,476.8 L633.2,476.9 L631.6,477.0 L630.5,477.0 Z"/>
<path fill="#111" d="M680.5,481.1 L681.5,480.5 L682.8,479.8 L684.3,478.9 L685.9,478.0 L687.7,477.0 L689.4,476.0 L691.1,475.2 L692.5,474.5 L694.0,473.9 L695.6,473.4 L697.1,472.9 L698.7,472.5 L700.2,472.1 L701.5,471.7 L702.6,471.4 L703.5,471.1 L703.3,470.5 L702.5,470.6 L701.3,470.7 L699.9,470.9 L698.4,471.1 L696.8,471.4 L695.1,471.8 L693.4,472.2 L691.9,472.7 L690.2,473.4 L688.5,474.2 L686.7,475.1 L684.9,476.1 L683.2,477.0 L681.7,477.9 L680.4,478.6 L679.5,479.1 Z"/>
<path fill="#111" d="M648.5,470.1 L648.9,470.2 L649.4,470.3 L650.1,470.5 L650.8,470.7 L651.6,471.0 L652.4,471.2 L653.3,471.5 L654.3,471.7 L655.4,472.0 L656.5,472.3 L657.8,472.7 L659.1,473.1 L660.5,473.5 L661.9,473.8 L663.3,474.1 L664.6,474.4 L666.0,474.6 L667.3,474.8 L668.6,475.0 L670.0,475.2 L671.3,475.3 L672.6,475.4 L673.9,475.5 L675.3,475.6 L676.5,475.6 L677.8,475.6 L679.1,475.5 L680.4,475.5 L681.6,475.4 L682.8,475.2 L684.1,475.1 L685.3,474.9 L686.5,474.7 L687.7,474.5 L689.0,474.2 L690.2,473.9 L691.4,473.5 L692.5,473.2 L693.6,472.8 L694.6,472.3 L695.6,471.9 L696.4,471.3 L697.2,470.8 L698.0,470.2 L698.6,469.6 L699.2,469.0 L699.8,468.4 L700.3,467.8 L700.8,467.1 L701.3,466.3 L701.7,465.6 L702.0,464.8 L702.2,464.1 L702.4,463.5 L702.6,463.0 L702.7,462.6 L702.1,462.2 L701.8,462.5 L701.4,463.0 L701.0,463.5 L700.6,464.1 L700.2,464.7 L699.7,465.2 L699.2,465.8 L698.7,466.2 L698.1,466.6 L697.5,467.1 L696.9,467.5 L696.3,467.9 L695.6,468.3 L694.9,468.6 L694.2,469.0 L693.4,469.3 L692.5,469.5 L691.5,469.8 L690.4,470.1 L689.3,470.3 L688.2,470.5 L687.0,470.7 L685.9,470.9 L684.7,471.1 L683.6,471.2 L682.4,471.4 L681.3,471.5 L680.1,471.6 L678.9,471.6 L677.7,471.6 L676.6,471.7 L675.3,471.6 L674.1,471.6 L672.9,471.5 L671.6,471.4 L670.4,471.3 L669.1,471.2 L667.9,471.0 L666.6,470.8 L665.4,470.6 L664.1,470.4 L662.8,470.1 L661.5,469.7 L660.1,469.4 L658.8,469.0 L657.6,468.7 L656.4,468.4 L655.3,468.1 L654.3,467.8 L653.4,467.6 L652.5,467.4 L651.8,467.1 L651.1,467.0 L650.4,466.8 L649.9,466.7 L649.5,466.5 Z"/>
<path fill="#111" d="M691.4,450.3 L691.9,450.2 L692.6,450.0 L693.4,449.8 L694.2,449.5 L695.2,449.2 L696.1,448.8 L697.1,448.5 L697.9,448.1 L698.8,447.6 L699.6,447.2 L700.5,446.6 L701.3,446.1 L702.1,445.6 L702.8,445.1 L703.3,444.6 L703.7,444.2 L703.5,443.8 L702.9,443.9 L702.3,444.1 L701.5,444.3 L700.6,444.7 L699.7,445.0 L698.8,445.3 L697.9,445.7 L697.1,445.9 L696.3,446.2 L695.4,446.4 L694.4,446.7 L693.5,446.9 L692.6,447.1 L691.8,447.3 L691.1,447.5 L690.6,447.7 Z"/>
<path fill="#111" d="M696.7,569.0 L697.4,569.1 L698.4,569.1 L699.5,569.2 L700.8,569.3 L702.1,569.4 L703.5,569.4 L704.8,569.5 L705.9,569.5 L707.0,569.6 L708.1,569.6 L709.2,569.6 L710.2,569.6 L711.3,569.6 L712.3,569.6 L713.4,569.6 L714.6,569.6 L715.9,569.5 L717.3,569.5 L718.8,569.4 L720.2,569.4 L721.7,569.3 L722.9,569.2 L724.0,569.2 L724.8,569.1 L724.8,568.5 L724.0,568.4 L722.9,568.4 L721.6,568.3 L720.2,568.3 L718.8,568.2 L717.3,568.1 L715.9,568.1 L714.6,568.0 L713.5,568.0 L712.4,567.9 L711.3,567.8 L710.3,567.8 L709.2,567.7 L708.2,567.6 L707.1,567.5 L706.1,567.5 L704.9,567.4 L703.6,567.3 L702.3,567.2 L700.9,567.1 L699.7,567.0 L698.5,566.9 L697.6,566.8 L696.9,566.8 Z"/>
<path fill="#111" d="M652.2,589.6 L652.7,589.2 L653.4,588.7 L654.2,588.1 L655.1,587.4 L656.1,586.7 L657.1,585.9 L658.0,585.2 L658.9,584.6 L659.8,584.0 L660.7,583.4 L661.6,582.8 L662.5,582.3 L663.4,581.7 L664.4,581.1 L665.4,580.6 L666.5,580.0 L667.7,579.5 L669.0,578.9 L670.3,578.3 L671.7,577.7 L673.1,577.2 L674.6,576.6 L676.0,576.1 L677.4,575.7 L678.8,575.2 L680.4,574.8 L682.0,574.4 L683.7,574.0 L685.2,573.6 L686.6,573.3 L687.8,573.0 L688.7,572.8 L688.1,570.4 L687.2,570.6 L686.1,570.9 L684.7,571.2 L683.1,571.5 L681.4,572.0 L679.8,572.4 L678.1,572.9 L676.6,573.3 L675.2,573.9 L673.7,574.4 L672.3,575.0 L670.8,575.6 L669.4,576.2 L668.0,576.9 L666.7,577.5 L665.5,578.2 L664.4,578.8 L663.3,579.4 L662.4,580.1 L661.5,580.7 L660.6,581.4 L659.7,582.1 L658.9,582.7 L658.1,583.4 L657.2,584.1 L656.2,584.9 L655.3,585.8 L654.4,586.6 L653.6,587.4 L652.9,588.1 L652.3,588.7 L651.8,589.2 Z"/>
<path fill="#111" d="M688.7,577.7 L689.5,577.5 L690.5,577.2 L691.7,576.9 L693.0,576.6 L694.3,576.2 L695.7,575.9 L697.1,575.6 L698.3,575.3 L699.4,575.1 L700.6,574.9 L701.7,574.6 L702.9,574.4 L704.0,574.2 L705.1,574.1 L706.1,573.9 L707.2,573.8 L708.2,573.8 L709.2,573.8 L710.1,573.8 L711.1,573.8 L712.1,573.8 L713.0,573.9 L713.9,574.0 L714.9,574.0 L715.8,574.1 L716.8,574.2 L717.7,574.2 L718.6,574.3 L719.4,574.4 L720.2,574.6 L721.0,574.8 L721.7,575.0 L722.3,575.4 L723.0,575.9 L723.7,576.5 L724.4,577.2 L725.0,577.8 L725.6,578.4 L726.1,578.9 L726.5,579.3 L726.9,578.9 L726.6,578.5 L726.2,577.9 L725.7,577.2 L725.2,576.5 L724.5,575.7 L723.9,575.0 L723.1,574.3 L722.3,573.8 L721.5,573.4 L720.7,573.0 L719.8,572.8 L718.8,572.6 L717.9,572.4 L717.0,572.2 L716.0,572.1 L715.1,572.0 L714.2,571.8 L713.2,571.7 L712.3,571.6 L711.3,571.5 L710.2,571.4 L709.2,571.3 L708.1,571.3 L707.0,571.4 L705.9,571.4 L704.8,571.5 L703.6,571.7 L702.4,571.8 L701.3,572.0 L700.1,572.2 L698.9,572.4 L697.7,572.7 L696.5,572.9 L695.1,573.2 L693.7,573.5 L692.3,573.9 L691.0,574.2 L689.8,574.5 L688.8,574.8 L688.1,574.9 Z"/>
<path fill="#111" d="M806.3,495.8 L805.7,496.4 L805.0,497.4 L804.2,498.5 L803.4,499.8 L802.5,501.1 L801.6,502.5 L800.8,503.9 L800.1,505.2 L799.5,506.3 L798.9,507.5 L798.2,508.7 L797.6,510.0 L797.0,511.2 L796.5,512.6 L796.1,513.9 L795.9,515.3 L795.8,516.7 L795.9,518.0 L796.1,519.2 L796.4,520.4 L796.8,521.5 L797.2,522.6 L797.6,523.6 L798.1,524.7 L798.7,525.8 L799.3,527.0 L800.1,528.2 L800.8,529.4 L801.6,530.4 L802.3,531.4 L803.0,532.1 L803.5,532.7 L804.5,532.1 L804.4,531.4 L804.1,530.4 L803.8,529.3 L803.4,528.1 L802.9,526.8 L802.5,525.6 L802.2,524.4 L801.9,523.3 L801.7,522.3 L801.4,521.2 L801.2,520.3 L801.1,519.3 L800.9,518.4 L800.9,517.6 L800.8,516.7 L800.9,515.9 L801.0,515.0 L801.3,514.0 L801.6,513.0 L802.0,511.8 L802.5,510.6 L802.9,509.4 L803.4,508.1 L803.9,506.8 L804.3,505.5 L804.8,504.0 L805.4,502.5 L805.9,501.0 L806.4,499.6 L806.8,498.3 L807.1,497.1 L807.3,496.2 Z"/>
<path fill="#111" d="M796.9,434.4 L797.2,434.8 L797.7,435.4 L798.2,436.0 L798.8,436.6 L799.4,437.3 L800.0,438.0 L800.6,438.7 L801.0,439.3 L801.4,439.9 L801.8,440.5 L802.2,441.1 L802.6,441.8 L803.0,442.4 L803.4,443.2 L803.7,443.9 L804.1,444.6 L804.5,445.4 L805.0,446.3 L805.4,447.3 L805.8,448.2 L806.2,449.2 L806.6,450.0 L807.0,450.7 L807.3,451.2 L808.7,450.8 L808.7,450.2 L808.6,449.4 L808.5,448.5 L808.3,447.5 L808.1,446.4 L807.9,445.4 L807.7,444.3 L807.5,443.4 L807.2,442.5 L807.0,441.7 L806.7,440.8 L806.5,440.0 L806.2,439.2 L805.8,438.4 L805.4,437.6 L805.0,436.7 L804.5,435.9 L803.9,435.0 L803.2,434.2 L802.6,433.4 L802.0,432.7 L801.5,432.1 L801.0,431.6 L800.7,431.2 Z"/>
<path fill="#d9c3a0" stroke="#111" stroke-width="1.5" stroke-linejoin="round" d="M675.7,484.4 C674.1,486.0 669.5,490.3 666.0,494.1 C662.5,497.9 657.4,502.5 654.8,507.2 C652.1,511.9 650.4,517.2 650.1,522.2 C649.8,527.2 650.9,532.4 652.9,537.1 C654.9,541.8 658.6,546.2 662.3,550.2 C666.0,554.2 670.6,558.5 675.3,561.4 C680.0,564.3 687.8,566.8 690.3,567.9 L685.6,553.5 L685.6,553.5 C683.6,552.0 676.6,548.0 673.5,544.6 C670.4,541.2 668.4,537.1 667.0,533.4 C665.6,529.7 664.6,526.2 665.1,522.2 C665.6,518.2 667.5,513.1 669.7,509.1 C671.9,505.1 676.8,500.1 678.2,498.3 Z"/>
<path fill="#f4eee0" stroke="#111" stroke-width="1.5" stroke-linejoin="round" d="M690.3,567.9 C691.2,566.8 693.9,564.3 695.9,561.4 C697.9,558.5 700.5,554.6 702.4,550.2 C704.3,545.8 706.3,540.2 707.1,535.2 C707.9,530.2 708.0,525.3 707.1,520.3 C706.2,515.3 704.3,510.0 701.5,505.3 C698.7,500.6 694.6,495.8 690.3,492.3 C686.0,488.8 678.1,485.7 675.7,484.4 L678.2,498.3 L678.2,498.3 C679.6,499.8 684.3,503.9 686.6,507.2 C688.9,510.5 691.0,514.7 692.2,518.4 C693.4,522.1 694.0,525.5 694.0,529.6 C694.0,533.7 693.6,538.7 692.2,542.7 C690.8,546.7 686.7,551.7 685.6,553.5 Z"/>
<path fill="#fb6e66" stroke="#111" stroke-width="1.5" stroke-linejoin="round" d="M678.2,498.3 C676.8,500.1 671.9,505.1 669.7,509.1 C667.5,513.1 665.6,518.2 665.1,522.2 C664.6,526.2 665.6,529.7 667.0,533.4 C668.4,537.1 670.4,541.2 673.5,544.6 C676.6,548.0 683.6,552.0 685.6,553.5 L685.6,553.5 C686.7,551.7 690.8,546.7 692.2,542.7 C693.6,538.7 694.0,533.7 694.0,529.6 C694.0,525.5 693.4,522.1 692.2,518.4 C691.0,514.7 688.9,510.5 686.6,507.2 C684.3,503.9 679.6,499.8 678.2,498.3 Z"/>
</g>
<path fill="#fb343d" d="M770.1,421.6 C770.5,420.7 770.9,418.0 772.2,416.0 C773.5,414.0 775.7,411.4 778.0,409.5 C780.3,407.6 783.4,406.3 786.2,404.8 C789.0,403.3 791.7,401.7 795.0,400.5 C798.3,399.3 802.5,398.6 805.8,397.8 C809.1,397.1 812.0,396.5 815.0,396.0 C818.0,395.5 820.7,395.1 824.0,395.0 C827.3,394.9 831.5,395.0 835.0,395.2 C838.5,395.4 841.8,395.8 845.0,396.4 C848.2,396.9 851.0,397.6 854.0,398.5 C857.0,399.4 860.5,400.7 863.2,402.0 C865.9,403.3 867.1,404.1 870.0,406.2 C872.9,408.3 877.0,411.3 880.5,414.6 C884.0,417.9 887.9,422.7 891.0,426.2 C894.1,429.7 897.1,433.3 899.4,435.6 C901.7,437.9 903.7,439.1 904.6,439.8 L913,446.1 L913.0,446.1 C913.9,446.8 915.7,449.4 918.3,450.3 C920.9,451.2 925.6,450.9 928.8,451.4 C931.9,451.9 934.4,452.1 937.2,453.5 C940.0,454.9 942.8,457.4 945.6,459.8 C948.4,462.2 951.5,465.6 954.0,468.2 C956.5,470.8 957.3,471.0 960.8,475.2 C964.3,479.4 970.6,487.4 974.8,493.2 C979.0,499.0 983.0,503.9 986.0,510.0 C989.0,516.1 991.8,526.3 993.0,529.6 L993.0,529.6 C990.9,528.2 984.4,525.8 980.4,521.2 C976.4,516.6 972.9,507.3 969.2,502.0 C965.5,496.7 962.2,493.2 958.0,489.2 C953.8,485.2 948.2,480.9 944.0,478.0 C939.8,475.1 936.2,473.1 933.0,472.0 C929.8,470.9 927.8,471.9 925.0,471.5 C922.2,471.1 919.8,471.3 916.0,469.6 C912.2,467.9 906.7,464.5 902.0,461.2 C897.3,457.9 891.7,453.7 888.0,450.0 C884.3,446.3 882.8,442.5 880.0,439.0 C877.2,435.5 874.0,431.4 871.2,429.0 C868.4,426.6 865.7,425.7 863.0,424.5 C860.3,423.3 857.6,422.5 854.8,421.6 C852.0,420.7 848.8,419.8 846.0,419.2 C843.2,418.6 841.0,418.2 838.0,418.0 C835.0,417.8 831.3,417.7 828.0,417.8 C824.7,417.9 821.1,418.4 818.4,418.8 C815.7,419.2 813.9,419.8 812.0,420.5 C810.1,421.2 808.9,421.9 807.2,423.0 C805.5,424.1 803.4,425.8 802.0,427.0 C800.6,428.2 800.3,428.8 798.8,430.0 C797.3,431.2 795.8,433.1 793.2,434.2 C790.6,435.2 786.7,436.8 783.4,436.3 C780.1,435.8 775.8,433.8 773.6,431.4 C771.4,428.9 770.7,423.2 770.1,421.6 Z"/>
<path fill="#fb343d" d="M913.0,446.1 C914.2,445.9 918.2,445.4 920.4,444.6 C922.6,443.9 924.7,443.3 926.0,441.6 C927.3,439.9 927.4,437.5 928.0,434.6 C928.6,431.7 929.0,428.0 929.6,424.1 C930.2,420.2 931.0,415.9 931.6,411.5 C932.2,407.1 932.7,402.1 933.0,398.0 C933.3,393.9 933.4,390.8 933.2,387.0 C933.0,383.2 932.0,378.8 931.6,375.0 C931.2,371.2 931.1,369.2 930.6,364.0 C930.1,358.8 928.9,348.8 928.8,344.0 C928.7,339.2 929.3,337.9 930.2,335.0 C931.1,332.1 931.5,330.0 934.0,326.5 C936.5,323.0 940.8,318.0 945.0,314.0 C949.2,310.0 952.9,306.8 959.0,302.5 C965.1,298.2 974.6,292.4 981.5,288.0 C988.4,283.6 993.8,280.2 1000.5,276.0 C1007.2,271.8 1016.2,267.8 1022.0,263.0 C1027.8,258.2 1032.8,249.7 1035.0,247.0 L1033.0,245.0 C1030.7,247.2 1024.7,254.2 1019.0,258.5 C1013.3,262.8 1005.7,266.8 999.0,271.0 C992.3,275.2 986.2,279.0 979.0,283.5 C971.8,288.0 962.4,293.6 956.0,298.0 C949.6,302.4 945.0,305.8 940.5,310.0 C936.0,314.2 931.6,319.2 929.0,323.0 C926.4,326.8 925.8,329.5 924.8,333.0 C923.8,336.5 923.2,338.8 923.2,344.0 C923.2,349.2 924.4,358.8 924.8,364.0 C925.2,369.2 925.4,371.2 925.8,375.0 C926.2,378.8 926.7,383.2 927.0,387.0 C927.3,390.8 927.7,393.8 927.4,398.0 C927.1,402.2 925.8,407.7 925.2,412.0 C924.6,416.3 924.3,420.3 923.8,424.0 C923.3,427.7 923.1,431.5 922.0,434.0 C920.9,436.5 919.9,438.0 917.0,439.0 C914.1,440.0 906.7,439.7 904.6,439.8 Z"/>
<path class="k" stroke-width="2.4" d="M770.1,421.6 C770.5,420.7 770.9,418.0 772.2,416.0 C773.5,414.0 775.7,411.4 778.0,409.5 C780.3,407.6 783.4,406.3 786.2,404.8 C789.0,403.3 791.7,401.7 795.0,400.5 C798.3,399.3 802.5,398.6 805.8,397.8 C809.1,397.1 812.0,396.5 815.0,396.0 C818.0,395.5 820.7,395.1 824.0,395.0 C827.3,394.9 831.5,395.0 835.0,395.2 C838.5,395.4 841.8,395.8 845.0,396.4 C848.2,396.9 851.0,397.6 854.0,398.5 C857.0,399.4 860.5,400.7 863.2,402.0 C865.9,403.3 867.1,404.1 870.0,406.2 C872.9,408.3 877.0,411.3 880.5,414.6 C884.0,417.9 887.9,422.7 891.0,426.2 C894.1,429.7 897.1,433.3 899.4,435.6 C901.7,437.9 903.7,439.1 904.6,439.8"/>
<path class="k" stroke-width="2.4" d="M913.0,446.1 C913.9,446.8 915.7,449.4 918.3,450.3 C920.9,451.2 925.6,450.9 928.8,451.4 C931.9,451.9 934.4,452.1 937.2,453.5 C940.0,454.9 942.8,457.4 945.6,459.8 C948.4,462.2 951.5,465.6 954.0,468.2 C956.5,470.8 957.3,471.0 960.8,475.2 C964.3,479.4 970.6,487.4 974.8,493.2 C979.0,499.0 983.0,503.9 986.0,510.0 C989.0,516.1 991.8,526.3 993.0,529.6"/>
<path class="k" stroke-width="2.4" d="M993.0,529.6 C990.9,528.2 984.4,525.8 980.4,521.2 C976.4,516.6 972.9,507.3 969.2,502.0 C965.5,496.7 962.2,493.2 958.0,489.2 C953.8,485.2 948.2,480.9 944.0,478.0 C939.8,475.1 936.2,473.1 933.0,472.0 C929.8,470.9 927.8,471.9 925.0,471.5 C922.2,471.1 919.8,471.3 916.0,469.6 C912.2,467.9 906.7,464.5 902.0,461.2 C897.3,457.9 891.7,453.7 888.0,450.0 C884.3,446.3 882.8,442.5 880.0,439.0 C877.2,435.5 874.0,431.4 871.2,429.0 C868.4,426.6 865.7,425.7 863.0,424.5 C860.3,423.3 857.6,422.5 854.8,421.6 C852.0,420.7 848.8,419.8 846.0,419.2 C843.2,418.6 841.0,418.2 838.0,418.0 C835.0,417.8 831.3,417.7 828.0,417.8 C824.7,417.9 821.1,418.4 818.4,418.8 C815.7,419.2 813.9,419.8 812.0,420.5 C810.1,421.2 808.9,421.9 807.2,423.0 C805.5,424.1 803.4,425.8 802.0,427.0 C800.6,428.2 800.3,428.8 798.8,430.0 C797.3,431.2 795.8,433.1 793.2,434.2 C790.6,435.2 786.7,436.8 783.4,436.3 C780.1,435.8 775.8,433.8 773.6,431.4 C771.4,428.9 770.7,423.2 770.1,421.6"/>
<path class="k" stroke-width="1.7" d="M913.0,446.1 C914.2,445.9 918.2,445.4 920.4,444.6 C922.6,443.9 924.7,443.3 926.0,441.6 C927.3,439.9 927.4,437.5 928.0,434.6 C928.6,431.7 929.0,428.0 929.6,424.1 C930.2,420.2 931.0,415.9 931.6,411.5 C932.2,407.1 932.7,402.1 933.0,398.0 C933.3,393.9 933.4,390.8 933.2,387.0 C933.0,383.2 932.0,378.8 931.6,375.0 C931.2,371.2 931.1,369.2 930.6,364.0 C930.1,358.8 928.9,348.8 928.8,344.0 C928.7,339.2 929.3,337.9 930.2,335.0 C931.1,332.1 931.5,330.0 934.0,326.5 C936.5,323.0 940.8,318.0 945.0,314.0 C949.2,310.0 952.9,306.8 959.0,302.5 C965.1,298.2 974.6,292.4 981.5,288.0 C988.4,283.6 993.8,280.2 1000.5,276.0 C1007.2,271.8 1016.2,267.8 1022.0,263.0 C1027.8,258.2 1032.8,249.7 1035.0,247.0"/>
<path class="k" stroke-width="1.7" d="M1033.0,245.0 C1030.7,247.2 1024.7,254.2 1019.0,258.5 C1013.3,262.8 1005.7,266.8 999.0,271.0 C992.3,275.2 986.2,279.0 979.0,283.5 C971.8,288.0 962.4,293.6 956.0,298.0 C949.6,302.4 945.0,305.8 940.5,310.0 C936.0,314.2 931.6,319.2 929.0,323.0 C926.4,326.8 925.8,329.5 924.8,333.0 C923.8,336.5 923.2,338.8 923.2,344.0 C923.2,349.2 924.4,358.8 924.8,364.0 C925.2,369.2 925.4,371.2 925.8,375.0 C926.2,378.8 926.7,383.2 927.0,387.0 C927.3,390.8 927.7,393.8 927.4,398.0 C927.1,402.2 925.8,407.7 925.2,412.0 C924.6,416.3 924.3,420.3 923.8,424.0 C923.3,427.7 923.1,431.5 922.0,434.0 C920.9,436.5 919.9,438.0 917.0,439.0 C914.1,440.0 906.7,439.7 904.6,439.8"/>
<path fill="#111" d="M930.5,425.3 L930.9,426.2 L931.4,427.5 L932.1,428.9 L932.8,430.5 L933.7,432.2 L934.5,434.0 L935.4,435.7 L936.3,437.3 L937.2,438.8 L938.2,440.3 L939.2,441.8 L940.3,443.3 L941.3,444.8 L942.4,446.3 L943.4,447.7 L944.5,449.1 L945.5,450.4 L946.6,451.7 L947.6,453.0 L948.7,454.2 L949.7,455.4 L950.8,456.6 L951.8,457.7 L952.9,458.8 L954.0,459.8 L955.0,460.9 L956.1,461.9 L957.2,462.9 L958.3,463.8 L959.4,464.7 L960.5,465.5 L961.6,466.2 L962.8,466.9 L964.0,467.5 L965.2,467.9 L966.4,468.4 L967.6,468.7 L968.7,469.0 L969.7,469.2 L970.6,469.4 L971.6,469.4 L972.4,469.3 L973.2,469.0 L973.8,468.7 L974.3,468.4 L974.7,468.1 L975.0,467.9 L975.3,467.8 L974.7,466.4 L974.4,466.5 L974.0,466.7 L973.5,466.8 L973.1,467.0 L972.6,467.1 L972.1,467.1 L971.6,467.1 L971.0,467.0 L970.2,466.9 L969.3,466.6 L968.3,466.3 L967.3,465.9 L966.3,465.4 L965.2,464.9 L964.2,464.4 L963.2,463.8 L962.2,463.1 L961.2,462.3 L960.2,461.5 L959.2,460.6 L958.2,459.7 L957.2,458.7 L956.1,457.7 L955.1,456.6 L954.1,455.6 L953.0,454.5 L952.0,453.4 L950.9,452.2 L949.9,451.0 L948.8,449.8 L947.8,448.6 L946.7,447.3 L945.6,446.0 L944.5,444.6 L943.4,443.3 L942.3,441.8 L941.2,440.4 L940.1,439.0 L939.1,437.5 L938.1,436.1 L937.1,434.7 L936.1,433.1 L935.1,431.5 L934.2,429.8 L933.3,428.3 L932.5,426.9 L931.8,425.8 L931.3,424.9 Z"/>
<path fill="#111" d="M930.1,425.4 L930.3,425.9 L930.7,426.5 L931.0,427.2 L931.4,428.0 L931.8,428.8 L932.1,429.5 L932.2,430.0 L932.3,430.3 L932.3,430.4 L932.1,430.6 L931.8,430.8 L931.4,431.0 L930.9,431.2 L930.4,431.3 L930.0,431.5 L929.7,431.7 L929.9,432.3 L930.2,432.3 L930.6,432.3 L931.1,432.2 L931.7,432.1 L932.3,431.9 L932.9,431.6 L933.4,431.2 L933.7,430.5 L933.7,429.8 L933.5,429.0 L933.2,428.1 L932.9,427.3 L932.5,426.5 L932.1,425.8 L931.9,425.2 L931.7,424.8 Z"/>
<path fill="#111" d="M926.1,442.6 L926.5,443.0 L927.1,443.6 L927.9,444.2 L928.7,444.9 L929.6,445.6 L930.5,446.4 L931.5,447.1 L932.5,447.9 L933.5,448.6 L934.7,449.5 L935.9,450.3 L937.2,451.2 L938.4,452.0 L939.5,452.8 L940.5,453.4 L941.2,453.8 L941.6,453.2 L941.0,452.7 L940.1,451.9 L939.1,451.1 L938.0,450.2 L936.8,449.2 L935.6,448.2 L934.5,447.3 L933.5,446.5 L932.6,445.8 L931.7,445.0 L930.8,444.2 L929.9,443.4 L929.1,442.7 L928.4,442.1 L927.8,441.6 L927.3,441.2 Z"/>
<path fill="#111" d="M915.9,420.6 L916.2,421.1 L916.6,421.8 L917.0,422.6 L917.6,423.5 L918.1,424.4 L918.7,425.3 L919.3,426.1 L919.7,426.7 L920.2,427.3 L920.7,427.9 L921.1,428.4 L921.6,428.8 L922.0,429.2 L922.3,429.5 L922.6,429.8 L922.8,430.0 L924.2,428.6 L923.9,428.4 L923.6,428.1 L923.3,427.8 L922.9,427.4 L922.4,427.0 L922.0,426.6 L921.5,426.2 L921.1,425.7 L920.5,425.1 L919.9,424.4 L919.3,423.6 L918.6,422.7 L918.0,421.9 L917.4,421.2 L916.9,420.6 L916.5,420.2 Z"/>
<!-- ================= LEFT ASSEMBLY ================= -->
<g id="leftasm">
  <!-- cream tube (aorta going up-left) -->
  <path fill="#f8f7d7" stroke="#111" stroke-width="2.4" stroke-linejoin="round" d="M270.6,322.3 C280,316 292,312.5 302.6,312 C312,311.5 320,312 328,313 C338,315 347,319 354,323.6 C362,329 369,335 374.5,341.6 C381,349 386,357 390,364.7 C395,372 399,379 402.7,385 L408,393 C420,410 440,445 455,480 L462,505 L385,556 L340,500 Z"/>
  <path class="k" stroke-width="2" d="M387,380 C394,383 401,388 408,393"/>
  <!-- orange strip under red -->
  <g mask="url(#mStrip)">
  <path fill="#fdb464" d="M215,428 L240,434.3 C245,435 249,436 252,437 L261.8,440.6 L330,480 L375,505 L345,545 L299.6,513.4 C295,511 291,509 288.4,506.4 C284,503 280,500 277.2,496.6 C274,493 271,490 268.8,486.8 C267.5,484 266.5,482 265.3,479.8 C262,478.5 260,477.7 257.6,477 L245,473.5 L229,470.7 L215,474 Z"/>
  </g>
  <path class="k" stroke-width="2" d="M240,434.3 C245,435 249,436 252,437 L261.8,440.6"/>
  <path class="k" stroke-width="2.2" d="M229,470.7 L245,473.5 L257.6,477 C260,477.7 262,478.5 265.3,479.8 C266.5,482 267.5,484 268.8,486.8 C271,490 274,493 277.2,496.6 C280,500 284,503 288.4,506.4 C291,509 295,511 299.6,513.4 L320,527"/>
  <!-- red cannula -->
  <g mask="url(#mRed)">
  <path fill="#cc373d" d="M257.7,309.5 L353.2,414 L380.5,440 C384,443 387,446.5 389.6,450.4 C392,454 394,458 395.2,461.6 C396.3,465.5 396.8,469 396.6,472.8 C396.3,478 395.3,482.5 393.8,486.8 C392,491 389.5,495 386.8,498 C384,501 381,503.5 378.4,505 C374.5,506.2 371,506.6 367.2,506.4 C363,505.6 359,504 356,502.2 L346.2,496.6 L310.8,474.2 C306,470.5 301,467 296.8,464.4 C294,461.5 292,458.5 289.8,456 C285.5,452.5 281,450 277.2,447.6 C272,445 267,442.5 261.8,440 C256.5,435 251,430 246.4,425.2 L233.8,414 L210,396 L210,290 L240,290 Z"/>
  </g>
  <path class="k" stroke-width="2.4" d="M257.7,309.5 L353.2,414 L380.5,440 C384,443 387,446.5 389.6,450.4 C392,454 394,458 395.2,461.6 C396.3,465.5 396.8,469 396.6,472.8 C396.3,478 395.3,482.5 393.8,486.8 C392,491 389.5,495 386.8,498 C384,501 381,503.5 378.4,505 C374.5,506.2 371,506.6 367.2,506.4 C363,505.6 359,504 356,502.2 L346.2,496.6 L310.8,474.2 C306,470.5 301,467 296.8,464.4 C294,461.5 292,458.5 289.8,456 C285.5,452.5 281,450 277.2,447.6 C272,445 267,442.5 261.8,440 C256.5,435 251,430 246.4,425.2 L233.8,414"/>
  <!-- light blue rings -->
  <path fill="#cfe3f3" stroke="#111" stroke-width="1.6" stroke-linejoin="round" d="M384,435.7 C389,435.5 394,436.3 398,437.8 C403,440.5 408,444.5 412,449 C416,453 419,457 421.8,461.6 C424.5,466 426.3,471 427.4,475.6 C428.4,480 428.9,485 428.8,489.6 L378.4,505 C381,503.5 384,501 386.8,498 C389.5,495 392,491 393.8,486.8 C395.3,482.5 396.3,478 396.6,472.8 C396.8,469 396.3,465.5 395.2,461.6 C394,458 392,454 389.6,450.4 C387,446.5 384,443 380.5,440 Z"/>
  <path class="k" stroke-width="1.5" d="M382.6,437.8 C388,440.5 392,444 395.2,447.6 C398.5,452 401,457 402.2,461.6 C403.3,466 403.8,471 403.6,475.6 C403.2,479.5 402.2,483.5 400.8,486.8 C398.5,491.5 395.5,496 392.4,499.4"/>
  <path class="k" stroke-width="1.5" d="M385.4,437 C391,439.5 395.5,443.5 399.4,447.6 C403,452 405.8,457 407.8,461.6 C408.7,466 409,471 408.5,475.6 C407.5,483 405,490 402.2,496.6"/>
  <path class="k" stroke-width="1.5" d="M386.8,435.7 C394,438 400.5,442.5 406.4,447.6 C411,452 415,457 417.6,461.6 C419.5,467 420,473 419.7,478.4 C419.3,484 418.3,489 417,493.8"/>
  <!-- suture -->
  <path fill="none" stroke="#1c1c1c" stroke-width="4" stroke-linecap="round" stroke-linejoin="round" d="M329,386 C333,390 336,395 337.6,400 C338.9,404 339.2,408 338.8,411.2 C338.5,415.5 337.5,420 336,423.8 C334,428 331.5,432 329,435 C325,439.5 321,444 316.4,447.6 C311,451.5 306,455.5 301,458.8 C296,462 290.5,465 285.6,467.2 C281,470 276,473 271.6,475.6 C268.5,477.5 266,479 263.2,479.8 C261,480.2 259,479.8 257.6,479"/>
  <path fill="#1c1c1c" stroke="#1c1c1c" stroke-width="1" stroke-linejoin="round" d="M275.8,472.8 L284.2,475.6 L286.3,481.2 L292.6,482 L292,485.4 L287,486.8 L285,491 L282,491.7 L281.4,487.5 L282.8,484.7 L277.2,481.2 L274.4,476.3 Z"/>
</g>

<!-- ================= CLAMP ================= -->
<g id="clamp">
  <!-- cream bulge under clamp -->
  <path fill="#f8f7d7" d="M360,562 L368.3,578.3 C371,580.5 373.5,581.5 376,581.8 C380,583 383.5,583.4 387.2,583.2 C390,582.8 392,582 394.2,581.1 L440,555 L455,530 Z"/>
  <path class="k" stroke-width="3.2" d="M367,576.5 C370,579.5 373,581 376,581.8 C380,583 383.5,583.4 387.2,583.2 C390,582.8 392,582 395.5,580.5"/>
  <g mask="url(#mClamp)">
  <!-- body + jaws fill -->
  <path fill="#d8d8d8" d="M60,668 L79.3,655 L140,624 L146.7,620 L150,618.3 L156,611.7 L158.3,596.7 L158.3,574.3 L165,570 L295,531.7 L333.4,520 L339.2,514.8 L378.4,505 L428.8,491 L442.8,488.2 C445,487.8 447,488.8 448,491 C450,494 451.6,500 452.8,506.4 L454.2,510.6 C456,513.5 457.5,517 458.4,520.4 C459.3,523.5 459.8,526 459.8,528.8 C459,531 457.5,532.5 455.6,533.5 L450,537 L436.2,547.5 L418,555.2 L390,569.2 L362,581.1 L331.2,590.9 L291.7,607.7 L216.7,635 L153.3,660 L83.3,694.3 L60,706 Z"/>
  <path fill="#d8d8d8" d="M70,599 L90,593.3 L158.3,574.3 L158.3,596.7 L156,611.7 L150,618.3 L146.7,620 L91.7,625.7 L70,628 Z"/>
  </g>
  <!-- outlines (sharp) -->
  <path class="k" stroke-width="1.8" d="M90,593.3 L158.3,574.3 L165,570 L295,531.7 L333.4,520 L339.2,514.8 L378.4,505 L428.8,491 L442.8,488.2 C445,487.8 447,488.8 448,491 C450,494 451.6,500 452.8,506.4 L454.2,510.6 C456,513.5 457.5,517 458.4,520.4 C459.3,523.5 459.8,526 459.8,528.8 C459,531 457.5,532.5 455.6,533.5 L450,537 L436.2,547.5 L418,555.2 L390,569.2 L362,581.1 L331.2,590.9 L291.7,607.7 L216.7,635 L153.3,660 L83.3,694.3"/>
  <path class="k" stroke-width="1.8" d="M91.7,625.7 L146.7,620 L150,618.3 L156,611.7 C157.5,606 158.3,601 158.3,596.7 L158.3,574.3"/>
  <path class="k" stroke-width="1.6" d="M163.3,573.3 C163,582 162.8,590 162.3,596.7 C161.8,603 161,608.5 160,613.3 L156,619.3"/>
  <path class="k" stroke-width="1.8" d="M79.3,655 L140,624 L146.7,620"/>
  <path class="k" stroke-width="1.6" d="M295,538.3 L173.3,576.7 C171.5,584 170,590.5 168.3,596.7 C166.5,603.5 165,609.5 163.3,615 L158.3,621.7 L135,630 L81.7,665"/>
  <path class="k" stroke-width="1.6" d="M295,538.3 L333,527.5"/>
  <!-- cream between jaws -->
  <path fill="#f8f7d7" stroke="#111" stroke-width="1.6" stroke-linejoin="round" d="M361.2,543.8 C364,541 367.5,538.5 371.7,536 C377,533 383,530.8 389.2,529 C395,527.3 401,526.2 406.7,525.5 L411.9,524.9 L406.7,529 C403,531 399,533 395,534.8 C390.5,537 386,539 381,540.7 C377,542 373,543 369.3,543.6 C366.5,544 364,544.1 361.2,543.8 Z"/>
  <!-- jaw lines -->
  <path class="k" stroke-width="1.8" d="M451.6,506.3 L435.8,510.9 L418.3,516.2 C412,517.2 406,517.8 400.8,518.5 C395,519.5 389,520.7 383.3,522 C378,523.5 373.5,525.5 369.3,527.8 C365.5,530 362,532.3 358.8,534.8 L351.8,540.7 L349.5,540.7 L335.5,530.2"/>
  <path class="k" stroke-width="1.6" d="M452.2,512.1 L435.8,517.3 L418.3,522 L416,523.8 L411.3,524.9 L395,526.7 C389,528.3 383,530.3 377.5,532.5 C372.5,535 368,537.7 363.5,540.7 L360,543.6 L355.3,542.4 L347.2,545.9 L334.9,534.3"/>
  <path class="k" stroke-width="1.8" d="M455.7,532.5 L430,540.7 L406.7,550 L383.3,560.5 L360,572.2 L330.5,583.2 L291.7,600 L216.7,626.7 L150,653.3 L82.3,687.3"/>
</g>

<!-- ================= WHITE CANNULA ================= -->
<g id="cannula">
  <path fill="#fafcf5" stroke="#111" stroke-width="2" stroke-linejoin="round" d="M245,697 L473.2,521.1 L489,506.2 C491,504.6 493.5,504 496,504 C498.5,504.5 501,505.5 503,507.1 C504.5,508.7 505.7,510.5 506.5,512.4 C507.7,515 508.4,518 508.7,521.1 C508.7,523.5 508.2,525.5 507.4,527.2 L496,536.9 L487.2,543.9 L482.9,544.3 L262,720 Z"/>
  <!-- ribs at tip -->
  <path class="k" stroke-width="1.4" d="M473.7,522 C476,525 477.5,528.5 478.5,532.5 C480.5,536.5 482,540.5 482.9,544.3"/>
  <path class="k" stroke-width="1.4" d="M478.5,521.1 C481,524 483,527 484.6,530.7 C486,534 486.6,537.5 486.4,541.2 L485.5,543.8"/>
  <path class="k" stroke-width="1.4" d="M482.9,519.4 C485.5,522 488,525.5 489.9,529 C491,532 491.2,535 490.7,537.7 L488.2,542.5"/>
  <path class="k" stroke-width="1.4" d="M486.4,517.6 C489.5,520.5 492.3,523.5 494.2,527.2 C495.2,529.5 495.5,532 495.1,534.2 L492.5,539.5"/>
  <!-- motion ticks -->
  <path class="k" stroke-width="1.2" d="M489.9,498.8 C492,497.4 495,497.3 497.3,498.8"/>
  <path class="k" stroke-width="1.2" d="M510,507.6 C512,509 513.7,512 514.4,516.7"/>
  <path class="k" stroke-width="1.2" d="M503.4,535.6 C506.5,535.2 509.5,533 511.7,529.9"/>
  <!-- connector -->
  <g mask="url(#mConn)">
    <path fill="#b7d4f0" d="M165,738 L185.4,724.6 L230.2,695.2 C232,694 234,693.4 235.8,693.5 C238.5,693.8 240.8,694.7 242.8,695.9 C246.5,698.5 249.8,701.5 252.6,705 C256,709 258.8,713.2 261,717.6 C263,721.5 264.2,725 264.5,728.8 C264.3,730.5 263.5,732 262.4,733 L259.6,735.1 L221.8,769.4 L195,792 Z"/>
    <path fill="#d3e5f4" d="M165,744 L187.5,728.8 L244.2,696.6 C250,701 256,708 263.8,719 L217.6,766.6 L190,792 Z"/>
  </g>
  <path class="k" stroke-width="1.7" d="M185.4,724.6 L230.2,695.2 C232,694 234,693.4 235.8,693.5 C238.5,693.8 240.8,694.7 242.8,695.9 C246.5,698.5 249.8,701.5 252.6,705 C256,709 258.8,713.2 261,717.6 C263,721.5 264.2,725 264.5,728.8 C264.3,730.5 263.5,732 262.4,733 L259.6,735.1 L221.8,769.4"/>
  <path class="k" stroke-width="1.7" d="M187.5,728.8 L244.2,696.6"/>
  <path class="k" stroke-width="1.7" d="M193,734.4 L210.6,721.8"/>
  <path class="k" stroke-width="1.7" d="M263.8,719 L217.6,766.6"/>
  <path class="k" stroke-width="1.7" d="M200,720.4 C201.5,719.7 203,719.5 205,719.7 C207.5,720.3 209.8,721.2 212,722.5 C215.5,725 218.8,728 221.8,731.6 C224.5,734.5 226.8,738 228.8,741.4 C230.3,744 231.3,747 231.6,749.8 C231.3,752 230.5,754 229.5,755.4 L226,758.2 L212,768.5"/>
</g>

<!-- ================= ORANGE LOOP ================= -->
<g id="loop">
  <g mask="url(#mLoop)"><path fill="#fdb464" d="M348.9,760 L348.9,736.5 C348.5,730 348,727 347.6,723.7 C345,715 343,709 340,703 C336,695 332,689 327,682.6 C320,673 314,665 309,657 C304,647 301,637 298.8,626 C296,617 294.5,608 293.7,600.5 L291,580 C291,573 292,566 293.7,559.6 C295,547 297,533 299,520 C300,513 301,507 302.4,500.8 C304,493.5 306.5,486.5 309.4,479.8 C312,472.5 315.5,465.5 319.2,458.8 C323.5,451 328,443.5 333.2,436.4 C338,430 344,423.5 351.5,417 C359,411.5 366,409 372.8,405.6 C378,403 384,401 389.6,400 C398,396.5 406,395.5 413,395.8 C417,397 420.5,398.3 423.2,400 C429,403 435,407 440,411.2 C444,415 448,419 451.2,423.8 C454.5,428 457.5,432 460,436.4 C465,445 469,454 472,462 L480.2,480 L488.1,501.9 C488.6,504.5 488.4,507 487.7,508.9 C486.5,512 484.5,514.8 482,516.7 C479.5,518.6 476.5,519.7 473.2,519.8 C470,519.5 467,518 464.5,515.9 C461.5,513 459.2,509.8 457.5,506.2 L448.4,489.6 L445.6,478.4 C443,472.5 440.3,467 437.2,461.6 C434,455.5 430.2,450 426,444.8 C421.5,439.5 417,435 412,430.8 C408.5,428.5 404.8,427.5 400.8,427.3 C396.5,428.2 393,430 389.6,432.2 C386,434.5 382.7,437.5 379.8,440.6 C376,444 373,448 370,451.8 C366,457.5 362,463.5 358.8,470 C355,476.5 351.8,483 349,489.6 C346.5,495 344,501 342,506.4 L337.8,520 L336,526 C334,535 332,545 330.9,554.5 L328,580 L329.6,595.4 C331,602 333,608 334.8,613 C338,621 341,628 345,634 C350,641 356,648 363,654 C369,661 374,668 378.4,675 C382,682 386,690 388.6,698 C390,705 391.5,712 392.5,718.6 L392.5,760 Z"/></g>
  <path class="k" stroke-width="2.4" d="M348.9,737.5 L348.9,736.5 C348.5,730 348,727 347.6,723.7 C345,715 343,709 340,703 C336,695 332,689 327,682.6 C320,673 314,665 309,657 C304,647 301,637 298.8,626 C296,617 294.5,608 293.7,600.5 L291,580 C291,573 292,566 293.7,559.6 C295,547 297,533 299,520 C300,513 301,507 302.4,500.8 C304,493.5 306.5,486.5 309.4,479.8 C312,472.5 315.5,465.5 319.2,458.8 C323.5,451 328,443.5 333.2,436.4 C338,430 344,423.5 351.5,417 C359,411.5 366,409 372.8,405.6 C378,403 384,401 389.6,400 C398,396.5 406,395.5 413,395.8 C417,397 420.5,398.3 423.2,400 C429,403 435,407 440,411.2 C444,415 448,419 451.2,423.8 C454.5,428 457.5,432 460,436.4 C465,445 469,454 472,462 L480.2,480 L488.1,501.9 C488.6,504.5 488.4,507 487.7,508.9 C486.5,512 484.5,514.8 482,516.7 C479.5,518.6 476.5,519.7 473.2,519.8 C470,519.5 467,518 464.5,515.9 C461.5,513 459.2,509.8 457.5,506.2 L448.4,489.6 L445.6,478.4 C443,472.5 440.3,467 437.2,461.6 C434,455.5 430.2,450 426,444.8 C421.5,439.5 417,435 412,430.8 C408.5,428.5 404.8,427.5 400.8,427.3 C396.5,428.2 393,430 389.6,432.2 C386,434.5 382.7,437.5 379.8,440.6 C376,444 373,448 370,451.8 C366,457.5 362,463.5 358.8,470 C355,476.5 351.8,483 349,489.6 C346.5,495 344,501 342,506.4 L337.8,520 L336,526 C334,535 332,545 330.9,554.5 L328,580 L329.6,595.4 C331,602 333,608 334.8,613 C338,621 341,628 345,634 C350,641 356,648 363,654 C369,661 374,668 378.4,675 C382,682 386,690 388.6,698 C390,705 391.5,712 392.5,718.6 L392.5,735.5"/>
</g>

<!-- ================= SNARE on IVC ================= -->
<g id="snare">
  <path fill="#fae8d0" stroke="#111" stroke-width="1.8" stroke-linejoin="round" d="M610.5,667.7 C611,660 612,654.5 613.5,649.8 C615.5,649 617.5,648.7 619.4,648.8 C624,649 629,649.8 633.3,650.8 L637.2,654.8 C637,662 636.3,668.5 635.3,674.6 C629,669.5 619,666.5 610.5,667.7 Z"/>
  <g mask="url(#mSnare)">
  <path fill="#fdb464" d="M577.8,768.0 C577.5,766.1 576.5,762.0 575.8,756.9 C575.1,751.8 574.0,743.7 573.8,737.1 C573.6,730.5 573.8,723.2 574.8,717.3 C575.8,711.3 577.2,706.7 579.7,701.4 C582.2,696.1 586.2,690.3 589.7,685.5 C593.2,680.7 597.1,675.6 600.6,672.6 C604.1,669.6 607.4,668.7 610.5,667.7 C613.6,666.7 616.3,666.4 619.4,666.7 C622.5,667.0 626.6,668.4 629.3,669.7 C631.9,671.0 633.1,672.3 635.3,674.6 C637.4,676.9 640.2,679.7 642.2,683.5 C644.2,687.3 646.2,693.1 647.2,697.4 C648.2,701.7 648.5,705.3 648.2,709.3 C647.9,713.3 645.9,717.2 645.2,721.2 C644.5,725.2 643.9,728.5 644.2,733.1 C644.5,737.7 645.7,743.3 647.2,749.0 C648.7,754.7 652.1,764.4 653.1,767.5 L653.1,800 L577.8,800 Z"/>
  </g>
  <path class="k" stroke-width="2.4" d="M577.8,768.0 C577.5,766.1 576.5,762.0 575.8,756.9 C575.1,751.8 574.0,743.7 573.8,737.1 C573.6,730.5 573.8,723.2 574.8,717.3 C575.8,711.3 577.2,706.7 579.7,701.4 C582.2,696.1 586.2,690.3 589.7,685.5 C593.2,680.7 597.1,675.6 600.6,672.6 C604.1,669.6 607.4,668.7 610.5,667.7 C613.6,666.7 616.3,666.4 619.4,666.7 C622.5,667.0 626.6,668.4 629.3,669.7 C631.9,671.0 633.1,672.3 635.3,674.6 C637.4,676.9 640.2,679.7 642.2,683.5 C644.2,687.3 646.2,693.1 647.2,697.4 C648.2,701.7 648.5,705.3 648.2,709.3 C647.9,713.3 645.9,717.2 645.2,721.2 C644.5,725.2 643.9,728.5 644.2,733.1 C644.5,737.7 645.7,743.3 647.2,749.0 C648.7,754.7 652.1,764.4 653.1,767.5"/>
  <path class="k" stroke-width="2" d="M648.2,709.3 C647.4,709.6 644.2,710.0 643.2,711.3 C642.2,712.6 642.2,715.3 642.2,717.2 C642.2,719.1 642.7,720.8 643.2,722.5 C643.7,724.2 644.9,726.4 645.2,727.2"/>
</g>


<!-- LABELS -->
<text class="lbl" x="850.5" y="146.5">Supravalvar</text>
<text class="lbl" x="850" y="192">Stenosis</text>
<text class="lbl" x="188" y="214.5">Aortic</text>
<text class="lbl" x="187.5" y="259.5">Cross Clamp</text>
<line x1="189" y1="288" x2="235.5" y2="575" stroke="#000" stroke-width="2.6"/>
<line x1="837.7" y1="204" x2="693.5" y2="518.5" stroke="#000" stroke-width="2.6"/>
<!-- SIGNATURE -->
<g id="sig" fill="none" stroke="#6c2c8f" stroke-linecap="round" stroke-linejoin="round">
<path stroke-width="2.3" d="M1032.2,793.0 C1033.1,791.8 1036.0,788.3 1037.5,785.5 C1039.0,782.7 1040.0,779.0 1041.0,776.0 C1042.0,773.0 1042.7,770.2 1043.5,767.5 C1044.3,764.8 1045.2,762.2 1046.0,760.0 C1046.8,757.8 1046.7,755.2 1048.0,754.0 C1049.3,752.8 1052.0,752.5 1054.0,752.5 C1056.0,752.5 1058.5,753.0 1060.0,754.0 C1061.5,755.0 1063.0,756.8 1063.0,758.5 C1063.0,760.2 1061.8,762.6 1060.0,764.5 C1058.2,766.4 1054.5,768.6 1052.5,769.7 C1050.5,770.8 1048.2,770.3 1048.0,771.2 C1047.8,772.1 1049.5,772.9 1051.0,775.0 C1052.5,777.1 1055.0,781.0 1057.0,784.0 C1059.0,787.0 1061.5,791.2 1063.0,793.0 C1064.5,794.8 1064.5,794.6 1066.0,794.5 C1067.5,794.4 1070.0,795.5 1072.0,792.2 C1074.0,789.0 1076.0,780.9 1078.0,775.0 C1080.0,769.1 1082.2,762.0 1084.0,757.0 C1085.8,752.0 1088.0,747.4 1088.5,745.0 C1089.0,742.6 1088.2,742.0 1087.0,742.7 C1085.8,743.5 1083.0,745.4 1081.0,749.5 C1079.0,753.6 1076.2,762.0 1075.0,767.5 C1073.8,773.0 1073.5,778.0 1073.5,782.5 C1073.5,787.0 1074.2,790.8 1075.0,794.5 C1075.8,798.2 1076.8,802.0 1078.0,805.0 C1079.2,808.0 1080.8,811.0 1082.5,812.5 C1084.2,814.0 1086.2,814.8 1088.5,814.0 C1090.8,813.2 1093.2,810.2 1096.0,808.0 C1098.8,805.8 1101.0,802.8 1105.0,800.5 C1109.0,798.2 1113.8,796.2 1120.0,794.5 C1126.2,792.8 1134.5,791.2 1142.5,790.0 C1150.5,788.8 1163.8,787.5 1168.0,787.0"/>
<circle cx="1116.2" cy="814.4" r="14.6" stroke-width="2.6"/>
</g>
<g fill="#6c2c8f" font-family="Liberation Serif, serif" font-weight="bold" font-style="italic">
<text x="1008" y="813.3" font-size="22.5" textLength="66" lengthAdjust="spacingAndGlyphs">2004</text>
<text x="1084.5" y="786.5" font-size="31" font-weight="normal" stroke="#6c2c8f" stroke-width="0.3" textLength="73" lengthAdjust="spacingAndGlyphs">driss</text>
<text x="1116.2" y="822.8" font-size="25" text-anchor="middle" font-style="normal">C</text>
</g>
</svg>
</body>
</html>
